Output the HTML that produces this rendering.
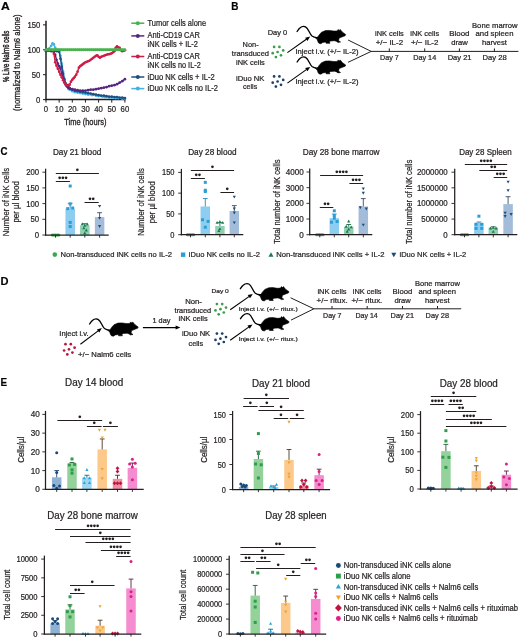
<!DOCTYPE html>
<html><head><meta charset="utf-8"><style>
html,body{margin:0;padding:0;background:#fff;width:520px;height:639px;overflow:hidden}
svg{display:block;will-change:transform}
text{font-family:"Liberation Sans", sans-serif;stroke:#231f20;stroke-width:0.22px}
</style></head><body>
<svg width="520" height="639" viewBox="0 0 520 639" font-family='"Liberation Sans", sans-serif' fill="#231f20">
<rect width="520" height="639" fill="#fff"/>
<text x="0.90" y="9.80" font-size="10" fill="#000" font-weight="bold" textLength="8.80" lengthAdjust="spacingAndGlyphs" >A</text>
<line x1="46.00" y1="20.80" x2="46.00" y2="100.30" stroke="#231f20" stroke-width="1.5" />
<line x1="45.30" y1="99.60" x2="125.70" y2="99.60" stroke="#231f20" stroke-width="1.5" />
<line x1="43.00" y1="99.60" x2="46.00" y2="99.60" stroke="#231f20" stroke-width="1" />
<text x="40.30" y="102.60" font-size="8.6" text-anchor="end" textLength="4.30" lengthAdjust="spacingAndGlyphs" >0</text>
<line x1="43.00" y1="74.68" x2="46.00" y2="74.68" stroke="#231f20" stroke-width="1" />
<text x="40.30" y="77.68" font-size="8.6" text-anchor="end" textLength="8.60" lengthAdjust="spacingAndGlyphs" >50</text>
<line x1="43.00" y1="49.77" x2="46.00" y2="49.77" stroke="#231f20" stroke-width="1" />
<text x="40.30" y="52.77" font-size="8.6" text-anchor="end" textLength="12.90" lengthAdjust="spacingAndGlyphs" >100</text>
<line x1="43.00" y1="24.85" x2="46.00" y2="24.85" stroke="#231f20" stroke-width="1" />
<text x="40.30" y="27.85" font-size="8.6" text-anchor="end" textLength="12.90" lengthAdjust="spacingAndGlyphs" >150</text>
<line x1="46.00" y1="99.60" x2="46.00" y2="102.60" stroke="#231f20" stroke-width="1" />
<text x="46.00" y="112.20" font-size="8.6" text-anchor="middle" textLength="4.30" lengthAdjust="spacingAndGlyphs" >0</text>
<line x1="59.15" y1="99.60" x2="59.15" y2="102.60" stroke="#231f20" stroke-width="1" />
<text x="59.15" y="112.20" font-size="8.6" text-anchor="middle" textLength="8.60" lengthAdjust="spacingAndGlyphs" >10</text>
<line x1="72.30" y1="99.60" x2="72.30" y2="102.60" stroke="#231f20" stroke-width="1" />
<text x="72.30" y="112.20" font-size="8.6" text-anchor="middle" textLength="8.60" lengthAdjust="spacingAndGlyphs" >20</text>
<line x1="85.45" y1="99.60" x2="85.45" y2="102.60" stroke="#231f20" stroke-width="1" />
<text x="85.45" y="112.20" font-size="8.6" text-anchor="middle" textLength="8.60" lengthAdjust="spacingAndGlyphs" >30</text>
<line x1="98.60" y1="99.60" x2="98.60" y2="102.60" stroke="#231f20" stroke-width="1" />
<text x="98.60" y="112.20" font-size="8.6" text-anchor="middle" textLength="8.60" lengthAdjust="spacingAndGlyphs" >40</text>
<line x1="111.75" y1="99.60" x2="111.75" y2="102.60" stroke="#231f20" stroke-width="1" />
<text x="111.75" y="112.20" font-size="8.6" text-anchor="middle" textLength="8.60" lengthAdjust="spacingAndGlyphs" >50</text>
<line x1="124.90" y1="99.60" x2="124.90" y2="102.60" stroke="#231f20" stroke-width="1" />
<text x="124.90" y="112.20" font-size="8.6" text-anchor="middle" textLength="8.60" lengthAdjust="spacingAndGlyphs" >60</text>
<text x="64.20" y="125.20" font-size="9.2" textLength="42.30" lengthAdjust="spacingAndGlyphs" style="stroke-width:0.32px">Time (hours)</text>
<text transform="translate(9.20,56.30) rotate(-90)" font-size="9.6" text-anchor="middle" textLength="51.40" lengthAdjust="spacingAndGlyphs" style="stroke-width:0.45px">% Live Nalm6 cells</text>
<text transform="translate(19.80,62.70) rotate(-90)" font-size="9.2" text-anchor="middle" textLength="96.50" lengthAdjust="spacingAndGlyphs" style="stroke-width:0.32px">(normalized to Nalm6 alone)</text>
<path d="M46.00 49.77 L48.63 48.77 L51.26 45.78 L52.58 43.29 L53.89 44.29 L55.20 47.78 L56.52 49.77 L59.15 49.77 L60.47 55.75 L61.78 63.72 L63.09 71.70 L64.41 78.67 L65.72 83.65 L67.04 86.64 L68.36 88.64 L69.67 89.63 L72.30 91.13 L74.93 92.13 L77.56 92.62 L80.19 93.12 L82.82 93.62 L85.45 94.12 L88.08 94.62 L92.03 95.12 L95.97 95.61 L98.60 96.11 L102.54 96.61 L105.17 97.11 L109.12 97.61 L111.75 97.61 L115.69 98.11 L118.33 98.11 L122.27 98.60 L124.90 98.60" fill="none" stroke="#3fb3e6" stroke-width="1.4" stroke-linejoin="round"/>
<circle cx="46.00" cy="49.77" r="1.35" fill="#3fb3e6"/>
<circle cx="48.63" cy="48.77" r="1.35" fill="#3fb3e6"/>
<circle cx="51.26" cy="45.78" r="1.35" fill="#3fb3e6"/>
<circle cx="52.58" cy="43.29" r="1.35" fill="#3fb3e6"/>
<circle cx="53.89" cy="44.29" r="1.35" fill="#3fb3e6"/>
<circle cx="55.20" cy="47.78" r="1.35" fill="#3fb3e6"/>
<circle cx="56.52" cy="49.77" r="1.35" fill="#3fb3e6"/>
<circle cx="59.15" cy="49.77" r="1.35" fill="#3fb3e6"/>
<circle cx="60.47" cy="55.75" r="1.35" fill="#3fb3e6"/>
<circle cx="61.78" cy="63.72" r="1.35" fill="#3fb3e6"/>
<circle cx="63.09" cy="71.70" r="1.35" fill="#3fb3e6"/>
<circle cx="64.41" cy="78.67" r="1.35" fill="#3fb3e6"/>
<circle cx="65.72" cy="83.65" r="1.35" fill="#3fb3e6"/>
<circle cx="67.04" cy="86.64" r="1.35" fill="#3fb3e6"/>
<circle cx="68.36" cy="88.64" r="1.35" fill="#3fb3e6"/>
<circle cx="69.67" cy="89.63" r="1.35" fill="#3fb3e6"/>
<circle cx="72.30" cy="91.13" r="1.35" fill="#3fb3e6"/>
<circle cx="74.93" cy="92.13" r="1.35" fill="#3fb3e6"/>
<circle cx="77.56" cy="92.62" r="1.35" fill="#3fb3e6"/>
<circle cx="80.19" cy="93.12" r="1.35" fill="#3fb3e6"/>
<circle cx="82.82" cy="93.62" r="1.35" fill="#3fb3e6"/>
<circle cx="85.45" cy="94.12" r="1.35" fill="#3fb3e6"/>
<circle cx="88.08" cy="94.62" r="1.35" fill="#3fb3e6"/>
<circle cx="92.03" cy="95.12" r="1.35" fill="#3fb3e6"/>
<circle cx="95.97" cy="95.61" r="1.35" fill="#3fb3e6"/>
<circle cx="98.60" cy="96.11" r="1.35" fill="#3fb3e6"/>
<circle cx="102.54" cy="96.61" r="1.35" fill="#3fb3e6"/>
<circle cx="105.17" cy="97.11" r="1.35" fill="#3fb3e6"/>
<circle cx="109.12" cy="97.61" r="1.35" fill="#3fb3e6"/>
<circle cx="111.75" cy="97.61" r="1.35" fill="#3fb3e6"/>
<circle cx="115.69" cy="98.11" r="1.35" fill="#3fb3e6"/>
<circle cx="118.33" cy="98.11" r="1.35" fill="#3fb3e6"/>
<circle cx="122.27" cy="98.60" r="1.35" fill="#3fb3e6"/>
<circle cx="124.90" cy="98.60" r="1.35" fill="#3fb3e6"/>
<path d="M46.00 51.26 L48.63 50.77 L51.26 51.26 L53.89 51.26 L56.52 51.26 L59.15 51.76 L60.47 58.74 L61.78 66.71 L63.09 73.69 L64.41 79.67 L65.72 83.65 L67.04 86.15 L68.36 87.64 L69.67 88.64 L72.30 89.63 L74.93 90.63 L77.56 91.13 L80.19 91.63 L82.82 92.13 L85.45 92.62 L88.08 93.12 L90.71 93.62 L93.34 94.12 L95.97 94.62 L98.60 95.12 L101.23 95.61 L103.86 95.61 L106.49 96.11 L109.12 96.61 L111.75 96.61 L114.38 97.11 L117.01 97.11 L119.64 97.61 L122.27 97.61 L124.90 98.11" fill="none" stroke="#1e4f80" stroke-width="1.4" stroke-linejoin="round"/>
<circle cx="46.00" cy="51.26" r="1.35" fill="#1e4f80"/>
<circle cx="48.63" cy="50.77" r="1.35" fill="#1e4f80"/>
<circle cx="51.26" cy="51.26" r="1.35" fill="#1e4f80"/>
<circle cx="53.89" cy="51.26" r="1.35" fill="#1e4f80"/>
<circle cx="56.52" cy="51.26" r="1.35" fill="#1e4f80"/>
<circle cx="59.15" cy="51.76" r="1.35" fill="#1e4f80"/>
<circle cx="60.47" cy="58.74" r="1.35" fill="#1e4f80"/>
<circle cx="61.78" cy="66.71" r="1.35" fill="#1e4f80"/>
<circle cx="63.09" cy="73.69" r="1.35" fill="#1e4f80"/>
<circle cx="64.41" cy="79.67" r="1.35" fill="#1e4f80"/>
<circle cx="65.72" cy="83.65" r="1.35" fill="#1e4f80"/>
<circle cx="67.04" cy="86.15" r="1.35" fill="#1e4f80"/>
<circle cx="68.36" cy="87.64" r="1.35" fill="#1e4f80"/>
<circle cx="69.67" cy="88.64" r="1.35" fill="#1e4f80"/>
<circle cx="72.30" cy="89.63" r="1.35" fill="#1e4f80"/>
<circle cx="74.93" cy="90.63" r="1.35" fill="#1e4f80"/>
<circle cx="77.56" cy="91.13" r="1.35" fill="#1e4f80"/>
<circle cx="80.19" cy="91.63" r="1.35" fill="#1e4f80"/>
<circle cx="82.82" cy="92.13" r="1.35" fill="#1e4f80"/>
<circle cx="85.45" cy="92.62" r="1.35" fill="#1e4f80"/>
<circle cx="88.08" cy="93.12" r="1.35" fill="#1e4f80"/>
<circle cx="90.71" cy="93.62" r="1.35" fill="#1e4f80"/>
<circle cx="93.34" cy="94.12" r="1.35" fill="#1e4f80"/>
<circle cx="95.97" cy="94.62" r="1.35" fill="#1e4f80"/>
<circle cx="98.60" cy="95.12" r="1.35" fill="#1e4f80"/>
<circle cx="101.23" cy="95.61" r="1.35" fill="#1e4f80"/>
<circle cx="103.86" cy="95.61" r="1.35" fill="#1e4f80"/>
<circle cx="106.49" cy="96.11" r="1.35" fill="#1e4f80"/>
<circle cx="109.12" cy="96.61" r="1.35" fill="#1e4f80"/>
<circle cx="111.75" cy="96.61" r="1.35" fill="#1e4f80"/>
<circle cx="114.38" cy="97.11" r="1.35" fill="#1e4f80"/>
<circle cx="117.01" cy="97.11" r="1.35" fill="#1e4f80"/>
<circle cx="119.64" cy="97.61" r="1.35" fill="#1e4f80"/>
<circle cx="122.27" cy="97.61" r="1.35" fill="#1e4f80"/>
<circle cx="124.90" cy="98.11" r="1.35" fill="#1e4f80"/>
<path d="M46.00 49.77 L48.63 49.77 L51.26 50.27 L52.58 50.27 L53.89 51.76 L55.20 54.75 L56.52 59.74 L57.84 63.72 L59.15 66.21 L60.47 68.71 L61.78 73.69 L63.09 78.67 L64.41 82.16 L65.72 84.65 L67.04 86.15 L68.36 87.14 L69.67 88.14 L72.30 89.14 L74.93 89.63 L77.56 90.13 L80.19 90.63 L82.82 90.63 L85.45 90.63 L88.08 90.13 L90.71 89.63 L93.34 89.63 L95.97 89.14 L98.60 88.64 L101.23 88.14 L103.86 87.64 L106.49 87.14 L109.12 86.15 L111.75 85.65 L114.38 85.15 L117.01 84.15 L119.64 82.66 L122.27 81.16 L124.90 79.17" fill="none" stroke="#55267f" stroke-width="1.4" stroke-linejoin="round"/>
<circle cx="46.00" cy="49.77" r="1.35" fill="#55267f"/>
<circle cx="48.63" cy="49.77" r="1.35" fill="#55267f"/>
<circle cx="51.26" cy="50.27" r="1.35" fill="#55267f"/>
<circle cx="52.58" cy="50.27" r="1.35" fill="#55267f"/>
<circle cx="53.89" cy="51.76" r="1.35" fill="#55267f"/>
<circle cx="55.20" cy="54.75" r="1.35" fill="#55267f"/>
<circle cx="56.52" cy="59.74" r="1.35" fill="#55267f"/>
<circle cx="57.84" cy="63.72" r="1.35" fill="#55267f"/>
<circle cx="59.15" cy="66.21" r="1.35" fill="#55267f"/>
<circle cx="60.47" cy="68.71" r="1.35" fill="#55267f"/>
<circle cx="61.78" cy="73.69" r="1.35" fill="#55267f"/>
<circle cx="63.09" cy="78.67" r="1.35" fill="#55267f"/>
<circle cx="64.41" cy="82.16" r="1.35" fill="#55267f"/>
<circle cx="65.72" cy="84.65" r="1.35" fill="#55267f"/>
<circle cx="67.04" cy="86.15" r="1.35" fill="#55267f"/>
<circle cx="68.36" cy="87.14" r="1.35" fill="#55267f"/>
<circle cx="69.67" cy="88.14" r="1.35" fill="#55267f"/>
<circle cx="72.30" cy="89.14" r="1.35" fill="#55267f"/>
<circle cx="74.93" cy="89.63" r="1.35" fill="#55267f"/>
<circle cx="77.56" cy="90.13" r="1.35" fill="#55267f"/>
<circle cx="80.19" cy="90.63" r="1.35" fill="#55267f"/>
<circle cx="82.82" cy="90.63" r="1.35" fill="#55267f"/>
<circle cx="85.45" cy="90.63" r="1.35" fill="#55267f"/>
<circle cx="88.08" cy="90.13" r="1.35" fill="#55267f"/>
<circle cx="90.71" cy="89.63" r="1.35" fill="#55267f"/>
<circle cx="93.34" cy="89.63" r="1.35" fill="#55267f"/>
<circle cx="95.97" cy="89.14" r="1.35" fill="#55267f"/>
<circle cx="98.60" cy="88.64" r="1.35" fill="#55267f"/>
<circle cx="101.23" cy="88.14" r="1.35" fill="#55267f"/>
<circle cx="103.86" cy="87.64" r="1.35" fill="#55267f"/>
<circle cx="106.49" cy="87.14" r="1.35" fill="#55267f"/>
<circle cx="109.12" cy="86.15" r="1.35" fill="#55267f"/>
<circle cx="111.75" cy="85.65" r="1.35" fill="#55267f"/>
<circle cx="114.38" cy="85.15" r="1.35" fill="#55267f"/>
<circle cx="117.01" cy="84.15" r="1.35" fill="#55267f"/>
<circle cx="119.64" cy="82.66" r="1.35" fill="#55267f"/>
<circle cx="122.27" cy="81.16" r="1.35" fill="#55267f"/>
<circle cx="124.90" cy="79.17" r="1.35" fill="#55267f"/>
<path d="M46.00 49.77 L48.63 50.27 L51.26 49.77 L52.58 50.27 L53.89 53.76 L55.20 62.23 L56.52 65.72 L57.84 68.71 L59.15 71.70 L60.47 74.68 L61.78 77.18 L63.09 80.17 L64.41 82.66 L65.72 84.15 L67.04 85.15 L68.36 85.15 L69.67 84.65 L70.98 81.66 L72.30 79.67 L73.61 78.17 L74.93 76.68 L76.25 74.68 L77.56 71.70 L78.88 67.71 L80.19 66.21 L81.50 65.22 L82.82 64.22 L84.13 63.22 L85.45 62.23 L86.77 61.73 L88.08 61.23 L89.39 60.73 L90.71 59.74 L92.03 58.74 L93.34 57.74 L94.66 56.75 L95.97 55.75 L97.28 55.25 L98.60 56.75 L99.91 57.74 L101.23 56.75 L102.54 56.25 L103.86 55.75 L105.17 55.25 L106.49 54.75 L107.81 54.25 L109.12 54.25 L110.44 53.76 L111.75 53.26 L113.06 52.26 L114.38 51.26 L115.69 47.78 L117.01 46.28 L118.33 47.28 L119.64 47.78 L120.95 50.27 L122.27 51.26 L123.58 50.77 L124.90 50.27" fill="none" stroke="#cf1d47" stroke-width="1.4" stroke-linejoin="round"/>
<circle cx="46.00" cy="49.77" r="1.35" fill="#cf1d47"/>
<circle cx="48.63" cy="50.27" r="1.35" fill="#cf1d47"/>
<circle cx="51.26" cy="49.77" r="1.35" fill="#cf1d47"/>
<circle cx="52.58" cy="50.27" r="1.35" fill="#cf1d47"/>
<circle cx="53.89" cy="53.76" r="1.35" fill="#cf1d47"/>
<circle cx="55.20" cy="62.23" r="1.35" fill="#cf1d47"/>
<circle cx="56.52" cy="65.72" r="1.35" fill="#cf1d47"/>
<circle cx="57.84" cy="68.71" r="1.35" fill="#cf1d47"/>
<circle cx="59.15" cy="71.70" r="1.35" fill="#cf1d47"/>
<circle cx="60.47" cy="74.68" r="1.35" fill="#cf1d47"/>
<circle cx="61.78" cy="77.18" r="1.35" fill="#cf1d47"/>
<circle cx="63.09" cy="80.17" r="1.35" fill="#cf1d47"/>
<circle cx="64.41" cy="82.66" r="1.35" fill="#cf1d47"/>
<circle cx="65.72" cy="84.15" r="1.35" fill="#cf1d47"/>
<circle cx="67.04" cy="85.15" r="1.35" fill="#cf1d47"/>
<circle cx="68.36" cy="85.15" r="1.35" fill="#cf1d47"/>
<circle cx="69.67" cy="84.65" r="1.35" fill="#cf1d47"/>
<circle cx="70.98" cy="81.66" r="1.35" fill="#cf1d47"/>
<circle cx="72.30" cy="79.67" r="1.35" fill="#cf1d47"/>
<circle cx="73.61" cy="78.17" r="1.35" fill="#cf1d47"/>
<circle cx="74.93" cy="76.68" r="1.35" fill="#cf1d47"/>
<circle cx="76.25" cy="74.68" r="1.35" fill="#cf1d47"/>
<circle cx="77.56" cy="71.70" r="1.35" fill="#cf1d47"/>
<circle cx="78.88" cy="67.71" r="1.35" fill="#cf1d47"/>
<circle cx="80.19" cy="66.21" r="1.35" fill="#cf1d47"/>
<circle cx="81.50" cy="65.22" r="1.35" fill="#cf1d47"/>
<circle cx="82.82" cy="64.22" r="1.35" fill="#cf1d47"/>
<circle cx="84.13" cy="63.22" r="1.35" fill="#cf1d47"/>
<circle cx="85.45" cy="62.23" r="1.35" fill="#cf1d47"/>
<circle cx="86.77" cy="61.73" r="1.35" fill="#cf1d47"/>
<circle cx="88.08" cy="61.23" r="1.35" fill="#cf1d47"/>
<circle cx="89.39" cy="60.73" r="1.35" fill="#cf1d47"/>
<circle cx="90.71" cy="59.74" r="1.35" fill="#cf1d47"/>
<circle cx="92.03" cy="58.74" r="1.35" fill="#cf1d47"/>
<circle cx="93.34" cy="57.74" r="1.35" fill="#cf1d47"/>
<circle cx="94.66" cy="56.75" r="1.35" fill="#cf1d47"/>
<circle cx="95.97" cy="55.75" r="1.35" fill="#cf1d47"/>
<circle cx="97.28" cy="55.25" r="1.35" fill="#cf1d47"/>
<circle cx="98.60" cy="56.75" r="1.35" fill="#cf1d47"/>
<circle cx="99.91" cy="57.74" r="1.35" fill="#cf1d47"/>
<circle cx="101.23" cy="56.75" r="1.35" fill="#cf1d47"/>
<circle cx="102.54" cy="56.25" r="1.35" fill="#cf1d47"/>
<circle cx="103.86" cy="55.75" r="1.35" fill="#cf1d47"/>
<circle cx="105.17" cy="55.25" r="1.35" fill="#cf1d47"/>
<circle cx="106.49" cy="54.75" r="1.35" fill="#cf1d47"/>
<circle cx="107.81" cy="54.25" r="1.35" fill="#cf1d47"/>
<circle cx="109.12" cy="54.25" r="1.35" fill="#cf1d47"/>
<circle cx="110.44" cy="53.76" r="1.35" fill="#cf1d47"/>
<circle cx="111.75" cy="53.26" r="1.35" fill="#cf1d47"/>
<circle cx="113.06" cy="52.26" r="1.35" fill="#cf1d47"/>
<circle cx="114.38" cy="51.26" r="1.35" fill="#cf1d47"/>
<circle cx="115.69" cy="47.78" r="1.35" fill="#cf1d47"/>
<circle cx="117.01" cy="46.28" r="1.35" fill="#cf1d47"/>
<circle cx="118.33" cy="47.28" r="1.35" fill="#cf1d47"/>
<circle cx="119.64" cy="47.78" r="1.35" fill="#cf1d47"/>
<circle cx="120.95" cy="50.27" r="1.35" fill="#cf1d47"/>
<circle cx="122.27" cy="51.26" r="1.35" fill="#cf1d47"/>
<circle cx="123.58" cy="50.77" r="1.35" fill="#cf1d47"/>
<circle cx="124.90" cy="50.27" r="1.35" fill="#cf1d47"/>
<path d="M46.00 49.77 L47.97 49.77 L49.95 49.77 L51.92 49.77 L53.89 49.77 L55.86 49.77 L57.84 49.77 L59.81 49.77 L61.78 49.77 L63.75 49.77 L65.72 49.77 L67.70 49.77 L69.67 49.77 L71.64 49.77 L73.61 49.77 L75.59 49.77 L77.56 49.77 L79.53 49.77 L81.50 49.77 L83.48 49.77 L85.45 49.77 L87.42 49.77 L89.39 49.77 L91.37 49.77 L93.34 49.77 L95.31 49.77 L97.28 49.77 L99.26 49.77 L101.23 49.77 L103.20 49.77 L105.17 49.77 L107.15 49.77 L109.12 49.77 L111.09 49.77 L113.06 49.77 L115.04 49.77 L117.01 49.77 L118.98 49.77 L120.95 49.77 L122.93 49.77 L124.90 49.77" fill="none" stroke="#46b34d" stroke-width="1.9" stroke-linejoin="round"/>
<circle cx="46.00" cy="49.77" r="1.4" fill="#46b34d"/>
<circle cx="47.97" cy="49.77" r="1.4" fill="#46b34d"/>
<circle cx="49.95" cy="49.77" r="1.4" fill="#46b34d"/>
<circle cx="51.92" cy="49.77" r="1.4" fill="#46b34d"/>
<circle cx="53.89" cy="49.77" r="1.4" fill="#46b34d"/>
<circle cx="55.86" cy="49.77" r="1.4" fill="#46b34d"/>
<circle cx="57.84" cy="49.77" r="1.4" fill="#46b34d"/>
<circle cx="59.81" cy="49.77" r="1.4" fill="#46b34d"/>
<circle cx="61.78" cy="49.77" r="1.4" fill="#46b34d"/>
<circle cx="63.75" cy="49.77" r="1.4" fill="#46b34d"/>
<circle cx="65.72" cy="49.77" r="1.4" fill="#46b34d"/>
<circle cx="67.70" cy="49.77" r="1.4" fill="#46b34d"/>
<circle cx="69.67" cy="49.77" r="1.4" fill="#46b34d"/>
<circle cx="71.64" cy="49.77" r="1.4" fill="#46b34d"/>
<circle cx="73.61" cy="49.77" r="1.4" fill="#46b34d"/>
<circle cx="75.59" cy="49.77" r="1.4" fill="#46b34d"/>
<circle cx="77.56" cy="49.77" r="1.4" fill="#46b34d"/>
<circle cx="79.53" cy="49.77" r="1.4" fill="#46b34d"/>
<circle cx="81.50" cy="49.77" r="1.4" fill="#46b34d"/>
<circle cx="83.48" cy="49.77" r="1.4" fill="#46b34d"/>
<circle cx="85.45" cy="49.77" r="1.4" fill="#46b34d"/>
<circle cx="87.42" cy="49.77" r="1.4" fill="#46b34d"/>
<circle cx="89.39" cy="49.77" r="1.4" fill="#46b34d"/>
<circle cx="91.37" cy="49.77" r="1.4" fill="#46b34d"/>
<circle cx="93.34" cy="49.77" r="1.4" fill="#46b34d"/>
<circle cx="95.31" cy="49.77" r="1.4" fill="#46b34d"/>
<circle cx="97.28" cy="49.77" r="1.4" fill="#46b34d"/>
<circle cx="99.26" cy="49.77" r="1.4" fill="#46b34d"/>
<circle cx="101.23" cy="49.77" r="1.4" fill="#46b34d"/>
<circle cx="103.20" cy="49.77" r="1.4" fill="#46b34d"/>
<circle cx="105.17" cy="49.77" r="1.4" fill="#46b34d"/>
<circle cx="107.15" cy="49.77" r="1.4" fill="#46b34d"/>
<circle cx="109.12" cy="49.77" r="1.4" fill="#46b34d"/>
<circle cx="111.09" cy="49.77" r="1.4" fill="#46b34d"/>
<circle cx="113.06" cy="49.77" r="1.4" fill="#46b34d"/>
<circle cx="115.04" cy="49.77" r="1.4" fill="#46b34d"/>
<circle cx="117.01" cy="49.77" r="1.4" fill="#46b34d"/>
<circle cx="118.98" cy="49.77" r="1.4" fill="#46b34d"/>
<circle cx="120.95" cy="49.77" r="1.4" fill="#46b34d"/>
<circle cx="122.93" cy="49.77" r="1.4" fill="#46b34d"/>
<circle cx="124.90" cy="49.77" r="1.4" fill="#46b34d"/>
<line x1="131.30" y1="23.20" x2="144.30" y2="23.20" stroke="#46b34d" stroke-width="1.5" />
<circle cx="137.8" cy="23.2" r="2.0" fill="#46b34d"/>
<text x="147.60" y="26.40" font-size="8.3" textLength="58.50" lengthAdjust="spacingAndGlyphs" >Tumor cells alone</text>
<line x1="131.30" y1="35.90" x2="144.30" y2="35.90" stroke="#55267f" stroke-width="1.5" />
<circle cx="137.8" cy="35.9" r="2.0" fill="#55267f"/>
<text x="147.60" y="38.20" font-size="8.3" textLength="52.30" lengthAdjust="spacingAndGlyphs" >Anti-CD19 CAR</text>
<text x="147.60" y="46.90" font-size="8.3" textLength="50.40" lengthAdjust="spacingAndGlyphs" >iNK cells + IL-2</text>
<line x1="131.30" y1="56.50" x2="144.30" y2="56.50" stroke="#cf1d47" stroke-width="1.5" />
<circle cx="137.8" cy="56.5" r="2.0" fill="#cf1d47"/>
<text x="147.60" y="59.00" font-size="8.3" textLength="52.30" lengthAdjust="spacingAndGlyphs" >Anti-CD19 CAR</text>
<text x="147.60" y="67.70" font-size="8.3" textLength="53.10" lengthAdjust="spacingAndGlyphs" >iNK cells no IL-2</text>
<line x1="131.30" y1="77.00" x2="144.30" y2="77.00" stroke="#1e4f80" stroke-width="1.5" />
<circle cx="137.8" cy="77.0" r="2.0" fill="#1e4f80"/>
<text x="147.60" y="79.60" font-size="8.3" textLength="67.10" lengthAdjust="spacingAndGlyphs" >iDuo NK cells + IL-2</text>
<line x1="131.30" y1="88.60" x2="144.30" y2="88.60" stroke="#3fb3e6" stroke-width="1.5" />
<circle cx="137.8" cy="88.6" r="2.0" fill="#3fb3e6"/>
<text x="147.60" y="91.00" font-size="8.3" textLength="70.40" lengthAdjust="spacingAndGlyphs" >iDuo NK cells no IL-2</text>
<text x="231.20" y="9.70" font-size="10" fill="#000" font-weight="bold" textLength="7.20" lengthAdjust="spacingAndGlyphs" >B</text>
<text x="267.70" y="35.30" font-size="7.4" textLength="19.50" lengthAdjust="spacingAndGlyphs" >Day 0</text>
<text x="242.60" y="46.90" font-size="7.4" textLength="16.00" lengthAdjust="spacingAndGlyphs" >Non-</text>
<text x="231.80" y="55.80" font-size="7.4" textLength="37.20" lengthAdjust="spacingAndGlyphs" >transduced</text>
<text x="236.00" y="64.60" font-size="7.4" textLength="28.80" lengthAdjust="spacingAndGlyphs" >iNK cells</text>
<text x="236.00" y="80.70" font-size="7.4" textLength="28.40" lengthAdjust="spacingAndGlyphs" >iDuo NK</text>
<text x="243.10" y="89.20" font-size="7.4" textLength="14.10" lengthAdjust="spacingAndGlyphs" >cells</text>
<circle cx="274.10" cy="46.90" r="1.35" fill="#3c9c4c"/>
<circle cx="279.40" cy="46.90" r="1.35" fill="#3c9c4c"/>
<circle cx="283.20" cy="50.40" r="1.35" fill="#3c9c4c"/>
<circle cx="277.60" cy="52.00" r="1.35" fill="#3c9c4c"/>
<circle cx="272.70" cy="53.20" r="1.35" fill="#3c9c4c"/>
<circle cx="281.00" cy="55.30" r="1.35" fill="#3c9c4c"/>
<circle cx="275.90" cy="57.10" r="1.35" fill="#3c9c4c"/>
<circle cx="274.10" cy="76.40" r="1.35" fill="#1c3f66"/>
<circle cx="279.40" cy="76.40" r="1.35" fill="#1c3f66"/>
<circle cx="283.20" cy="79.90" r="1.35" fill="#1c3f66"/>
<circle cx="277.60" cy="81.50" r="1.35" fill="#1c3f66"/>
<circle cx="272.70" cy="82.70" r="1.35" fill="#1c3f66"/>
<circle cx="281.00" cy="84.80" r="1.35" fill="#1c3f66"/>
<circle cx="275.90" cy="86.60" r="1.35" fill="#1c3f66"/>
<line x1="287.40" y1="52.60" x2="306.69" y2="38.98" stroke="#000" stroke-width="1.1" />
<path d="M310.20 36.50L307.43 40.90L305.13 37.64Z" fill="#000"/>
<line x1="287.40" y1="83.10" x2="306.69" y2="69.39" stroke="#000" stroke-width="1.1" />
<path d="M310.20 66.90L307.45 71.31L305.13 68.05Z" fill="#000"/>
<path d="M315.00 37.40 L317.00 38.40 L318.90 35.20 L321.50 32.20 L325.50 30.60 L329.40 30.40 L334.00 31.10 L337.20 30.90 L338.20 29.40 L339.20 30.40 L340.20 29.40 L341.00 30.50 L342.50 32.20 L345.70 34.50 L345.10 35.80 L343.10 36.50 L339.20 38.10 L338.50 40.50 L340.50 42.00 L338.00 42.40 L336.60 41.40 L334.60 40.70 L330.70 41.00 L329.40 41.70 L329.90 43.30 L326.10 43.30 L325.80 42.00 L322.80 42.40 L320.90 43.70 L318.90 43.30 L317.90 41.70 L317.30 39.70Z" fill="#000" stroke="#000" stroke-width="0.6" stroke-linejoin="round"/>
<path d="M297.10 31.50 C299.50 27.50,303.00 25.50,305.50 26.80 C308.50 28.30,309.50 34.00,312.00 36.00 C314.00 37.50,316.00 37.80,318.00 37.50" fill="none" stroke="#000" stroke-width="1.35" stroke-linecap="round"/>
<path d="M315.00 67.90 L317.00 68.90 L318.90 65.70 L321.50 62.70 L325.50 61.10 L329.40 60.90 L334.00 61.60 L337.20 61.40 L338.20 59.90 L339.20 60.90 L340.20 59.90 L341.00 61.00 L342.50 62.70 L345.70 65.00 L345.10 66.30 L343.10 67.00 L339.20 68.60 L338.50 71.00 L340.50 72.50 L338.00 72.90 L336.60 71.90 L334.60 71.20 L330.70 71.50 L329.40 72.20 L329.90 73.80 L326.10 73.80 L325.80 72.50 L322.80 72.90 L320.90 74.20 L318.90 73.80 L317.90 72.20 L317.30 70.20Z" fill="#000" stroke="#000" stroke-width="0.6" stroke-linejoin="round"/>
<path d="M297.10 62.00 C299.50 58.00,303.00 56.00,305.50 57.30 C308.50 58.80,309.50 64.50,312.00 66.50 C314.00 68.00,316.00 68.30,318.00 68.00" fill="none" stroke="#000" stroke-width="1.35" stroke-linecap="round"/>
<text x="295.50" y="53.80" font-size="7.2" textLength="63.10" lengthAdjust="spacingAndGlyphs" >Inject i.v. (+/− IL-2)</text>
<text x="295.50" y="84.20" font-size="7.2" textLength="63.10" lengthAdjust="spacingAndGlyphs" >Inject i.v. (+/− IL-2)</text>
<line x1="348.10" y1="40.00" x2="371.20" y2="51.40" stroke="#231f20" stroke-width="1.0" />
<line x1="348.10" y1="62.30" x2="371.20" y2="51.40" stroke="#231f20" stroke-width="1.0" />
<line x1="371.00" y1="51.40" x2="518.40" y2="51.40" stroke="#231f20" stroke-width="1.0" />
<line x1="389.30" y1="51.40" x2="389.30" y2="48.40" stroke="#231f20" stroke-width="1.0" />
<line x1="424.70" y1="51.40" x2="424.70" y2="48.40" stroke="#231f20" stroke-width="1.0" />
<line x1="459.40" y1="51.40" x2="459.40" y2="48.40" stroke="#231f20" stroke-width="1.0" />
<line x1="494.40" y1="51.40" x2="494.40" y2="48.40" stroke="#231f20" stroke-width="1.0" />
<text x="375.00" y="35.80" font-size="7.4" textLength="28.80" lengthAdjust="spacingAndGlyphs" >iNK cells</text>
<text x="375.70" y="44.60" font-size="7.4" textLength="27.40" lengthAdjust="spacingAndGlyphs" >+/− IL-2</text>
<text x="410.30" y="35.80" font-size="7.4" textLength="28.80" lengthAdjust="spacingAndGlyphs" >iNK cells</text>
<text x="411.00" y="44.60" font-size="7.4" textLength="27.40" lengthAdjust="spacingAndGlyphs" >+/− IL-2</text>
<text x="449.30" y="36.20" font-size="7.4" textLength="20.20" lengthAdjust="spacingAndGlyphs" >Blood</text>
<text x="451.30" y="44.90" font-size="7.4" textLength="16.60" lengthAdjust="spacingAndGlyphs" >draw</text>
<text x="472.00" y="27.50" font-size="7.4" textLength="45.60" lengthAdjust="spacingAndGlyphs" >Bone marrow</text>
<text x="475.55" y="36.20" font-size="7.4" textLength="37.90" lengthAdjust="spacingAndGlyphs" >and spleen</text>
<text x="481.95" y="44.90" font-size="7.4" textLength="24.90" lengthAdjust="spacingAndGlyphs" >harvest</text>
<text x="380.10" y="60.30" font-size="7.4" textLength="18.70" lengthAdjust="spacingAndGlyphs" >Day 7</text>
<text x="413.20" y="60.30" font-size="7.4" textLength="23.00" lengthAdjust="spacingAndGlyphs" >Day 14</text>
<text x="447.70" y="60.30" font-size="7.4" textLength="23.80" lengthAdjust="spacingAndGlyphs" >Day 21</text>
<text x="482.55" y="60.30" font-size="7.4" textLength="24.30" lengthAdjust="spacingAndGlyphs" >Day 28</text>
<text x="0.60" y="154.70" font-size="10" fill="#000" font-weight="bold" textLength="7.00" lengthAdjust="spacingAndGlyphs" >C</text>
<text x="52.90" y="154.80" font-size="8.2" textLength="48.40" lengthAdjust="spacingAndGlyphs" >Day 21 blood</text>
<text transform="translate(8.60,202.00) rotate(-90)" font-size="9.2" text-anchor="middle" textLength="68.50" lengthAdjust="spacingAndGlyphs" >Number of iNK cells</text>
<text transform="translate(19.40,201.90) rotate(-90)" font-size="9.0" text-anchor="middle" textLength="41.30" lengthAdjust="spacingAndGlyphs" >per µl blood</text>
<circle cx="52.30" cy="235.00" r="1.50" fill="#3aa84a"/>
<circle cx="53.90" cy="235.00" r="1.50" fill="#3aa84a"/>
<circle cx="55.50" cy="235.00" r="1.50" fill="#3aa84a"/>
<circle cx="57.10" cy="235.00" r="1.50" fill="#3aa84a"/>
<circle cx="58.70" cy="235.00" r="1.50" fill="#3aa84a"/>
<rect x="65.45" y="208.81" width="9.50" height="26.19" fill="#8ccdf0"/>
<line x1="70.20" y1="208.81" x2="70.20" y2="203.29" stroke="#2a86bd" stroke-width="0.9" />
<line x1="67.80" y1="203.29" x2="72.60" y2="203.29" stroke="#2a86bd" stroke-width="0.9" />
<rect x="68.70" y="184.52" width="3.00" height="3.00" fill="#2a9fd6"/>
<rect x="66.20" y="207.12" width="3.00" height="3.00" fill="#2a9fd6"/>
<rect x="71.20" y="206.50" width="3.00" height="3.00" fill="#2a9fd6"/>
<rect x="68.70" y="202.41" width="3.00" height="3.00" fill="#2a9fd6"/>
<rect x="68.70" y="220.94" width="3.00" height="3.00" fill="#2a9fd6"/>
<rect x="68.70" y="225.02" width="3.00" height="3.00" fill="#2a9fd6"/>
<rect x="80.05" y="225.42" width="9.50" height="9.58" fill="#8fcfb2"/>
<line x1="84.80" y1="225.42" x2="84.80" y2="223.70" stroke="#1e6a48" stroke-width="0.9" />
<line x1="82.40" y1="223.70" x2="87.20" y2="223.70" stroke="#1e6a48" stroke-width="0.9" />
<path d="M82.30 222.30L83.88 225.15L80.72 225.15Z" fill="#1e7a50"/>
<path d="M87.30 222.61L88.88 225.46L85.72 225.46Z" fill="#1e7a50"/>
<path d="M84.80 223.87L86.38 226.72L83.22 226.72Z" fill="#1e7a50"/>
<path d="M83.80 226.38L85.38 229.23L82.22 229.23Z" fill="#1e7a50"/>
<path d="M86.30 228.58L87.88 231.43L84.72 231.43Z" fill="#1e7a50"/>
<path d="M84.80 231.41L86.38 234.26L83.22 234.26Z" fill="#1e7a50"/>
<rect x="94.85" y="217.10" width="9.50" height="17.90" fill="#a3bcd9"/>
<line x1="99.60" y1="217.10" x2="99.60" y2="212.71" stroke="#3d4b5c" stroke-width="0.9" />
<line x1="97.20" y1="212.71" x2="102.00" y2="212.71" stroke="#3d4b5c" stroke-width="0.9" />
<path d="M99.60 207.82L101.17 204.97L98.02 204.97Z" fill="#1f4d7a"/>
<path d="M99.60 219.75L101.17 216.90L98.02 216.90Z" fill="#1f4d7a"/>
<path d="M99.60 227.92L101.17 225.07L98.02 225.07Z" fill="#1f4d7a"/>
<line x1="45.60" y1="168.70" x2="45.60" y2="235.62" stroke="#231f20" stroke-width="1.25" />
<line x1="44.98" y1="235.00" x2="108.70" y2="235.00" stroke="#231f20" stroke-width="1.25" />
<line x1="42.40" y1="235.00" x2="45.60" y2="235.00" stroke="#231f20" stroke-width="0.9" />
<text x="39.20" y="238.00" font-size="8.6" text-anchor="end" textLength="4.33" lengthAdjust="spacingAndGlyphs" >0</text>
<line x1="42.40" y1="219.30" x2="45.60" y2="219.30" stroke="#231f20" stroke-width="0.9" />
<text x="39.20" y="222.30" font-size="8.6" text-anchor="end" textLength="8.66" lengthAdjust="spacingAndGlyphs" >50</text>
<line x1="42.40" y1="203.60" x2="45.60" y2="203.60" stroke="#231f20" stroke-width="0.9" />
<text x="39.20" y="206.60" font-size="8.6" text-anchor="end" textLength="12.99" lengthAdjust="spacingAndGlyphs" >100</text>
<line x1="42.40" y1="187.90" x2="45.60" y2="187.90" stroke="#231f20" stroke-width="0.9" />
<text x="39.20" y="190.90" font-size="8.6" text-anchor="end" textLength="12.99" lengthAdjust="spacingAndGlyphs" >150</text>
<line x1="42.40" y1="172.20" x2="45.60" y2="172.20" stroke="#231f20" stroke-width="0.9" />
<text x="39.20" y="175.20" font-size="8.6" text-anchor="end" textLength="12.99" lengthAdjust="spacingAndGlyphs" >200</text>
<line x1="55.50" y1="235.00" x2="55.50" y2="237.60" stroke="#231f20" stroke-width="0.9" />
<line x1="70.20" y1="235.00" x2="70.20" y2="237.60" stroke="#231f20" stroke-width="0.9" />
<line x1="84.80" y1="235.00" x2="84.80" y2="237.60" stroke="#231f20" stroke-width="0.9" />
<line x1="99.60" y1="235.00" x2="99.60" y2="237.60" stroke="#231f20" stroke-width="0.9" />
<line x1="55.80" y1="173.50" x2="98.90" y2="173.50" stroke="#231f20" stroke-width="1.0" />
<circle cx="77.35" cy="169.80" r="1.35" fill="#231f20"/>
<line x1="55.80" y1="181.50" x2="69.90" y2="181.50" stroke="#231f20" stroke-width="1.0" />
<circle cx="59.65" cy="177.80" r="1.35" fill="#231f20"/>
<circle cx="62.85" cy="177.80" r="1.35" fill="#231f20"/>
<circle cx="66.05" cy="177.80" r="1.35" fill="#231f20"/>
<line x1="84.50" y1="202.50" x2="98.70" y2="202.50" stroke="#231f20" stroke-width="1.0" />
<circle cx="90.00" cy="198.80" r="1.35" fill="#231f20"/>
<circle cx="93.20" cy="198.80" r="1.35" fill="#231f20"/>
<text x="188.20" y="154.80" font-size="8.2" textLength="48.40" lengthAdjust="spacingAndGlyphs" >Day 28 blood</text>
<text transform="translate(143.80,202.00) rotate(-90)" font-size="9.2" text-anchor="middle" textLength="67.70" lengthAdjust="spacingAndGlyphs" >Number of iNK cells</text>
<text transform="translate(155.30,202.30) rotate(-90)" font-size="9.0" text-anchor="middle" textLength="42.00" lengthAdjust="spacingAndGlyphs" >per µl blood</text>
<circle cx="187.30" cy="234.70" r="1.50" fill="#3aa84a"/>
<circle cx="188.90" cy="234.70" r="1.50" fill="#3aa84a"/>
<circle cx="190.50" cy="234.70" r="1.50" fill="#3aa84a"/>
<circle cx="192.10" cy="234.70" r="1.50" fill="#3aa84a"/>
<circle cx="193.70" cy="234.70" r="1.50" fill="#3aa84a"/>
<rect x="200.55" y="206.45" width="9.50" height="28.25" fill="#8ccdf0"/>
<line x1="205.30" y1="206.45" x2="205.30" y2="198.55" stroke="#2a86bd" stroke-width="0.9" />
<line x1="202.90" y1="198.55" x2="207.70" y2="198.55" stroke="#2a86bd" stroke-width="0.9" />
<rect x="203.80" y="180.85" width="3.00" height="3.00" fill="#2a9fd6"/>
<rect x="203.80" y="188.74" width="3.00" height="3.00" fill="#2a9fd6"/>
<rect x="203.80" y="189.99" width="3.00" height="3.00" fill="#2a9fd6"/>
<rect x="201.00" y="218.24" width="3.00" height="3.00" fill="#2a9fd6"/>
<rect x="206.60" y="219.90" width="3.00" height="3.00" fill="#2a9fd6"/>
<rect x="203.80" y="225.72" width="3.00" height="3.00" fill="#2a9fd6"/>
<rect x="215.15" y="225.97" width="9.50" height="8.73" fill="#8fcfb2"/>
<line x1="219.90" y1="225.97" x2="219.90" y2="222.65" stroke="#1e6a48" stroke-width="0.9" />
<line x1="217.50" y1="222.65" x2="222.30" y2="222.65" stroke="#1e6a48" stroke-width="0.9" />
<path d="M217.10 220.94L218.67 223.79L215.53 223.79Z" fill="#1e7a50"/>
<path d="M219.90 220.11L221.47 222.96L218.33 222.96Z" fill="#1e7a50"/>
<path d="M222.70 220.94L224.28 223.79L221.13 223.79Z" fill="#1e7a50"/>
<path d="M219.90 227.17L221.47 230.02L218.33 230.02Z" fill="#1e7a50"/>
<path d="M218.90 229.25L220.47 232.10L217.33 232.10Z" fill="#1e7a50"/>
<rect x="229.55" y="211.02" width="9.50" height="23.68" fill="#a3bcd9"/>
<line x1="234.30" y1="211.02" x2="234.30" y2="205.61" stroke="#3d4b5c" stroke-width="0.9" />
<line x1="231.90" y1="205.61" x2="236.70" y2="205.61" stroke="#3d4b5c" stroke-width="0.9" />
<path d="M234.30 198.60L235.88 195.75L232.73 195.75Z" fill="#1f4d7a"/>
<path d="M234.30 210.23L235.88 207.38L232.73 207.38Z" fill="#1f4d7a"/>
<path d="M234.30 214.39L235.88 211.54L232.73 211.54Z" fill="#1f4d7a"/>
<path d="M234.30 224.36L235.88 221.51L232.73 221.51Z" fill="#1f4d7a"/>
<line x1="181.40" y1="168.88" x2="181.40" y2="235.32" stroke="#231f20" stroke-width="1.25" />
<line x1="180.78" y1="234.70" x2="243.30" y2="234.70" stroke="#231f20" stroke-width="1.25" />
<line x1="178.20" y1="234.70" x2="181.40" y2="234.70" stroke="#231f20" stroke-width="0.9" />
<text x="174.50" y="237.70" font-size="8.6" text-anchor="end" textLength="4.17" lengthAdjust="spacingAndGlyphs" >0</text>
<line x1="178.20" y1="213.92" x2="181.40" y2="213.92" stroke="#231f20" stroke-width="0.9" />
<text x="174.50" y="216.92" font-size="8.6" text-anchor="end" textLength="8.34" lengthAdjust="spacingAndGlyphs" >50</text>
<line x1="178.20" y1="193.15" x2="181.40" y2="193.15" stroke="#231f20" stroke-width="0.9" />
<text x="174.50" y="196.15" font-size="8.6" text-anchor="end" textLength="12.51" lengthAdjust="spacingAndGlyphs" >100</text>
<line x1="178.20" y1="172.38" x2="181.40" y2="172.38" stroke="#231f20" stroke-width="0.9" />
<text x="174.50" y="175.38" font-size="8.6" text-anchor="end" textLength="12.51" lengthAdjust="spacingAndGlyphs" >150</text>
<line x1="190.50" y1="234.70" x2="190.50" y2="237.30" stroke="#231f20" stroke-width="0.9" />
<line x1="205.30" y1="234.70" x2="205.30" y2="237.30" stroke="#231f20" stroke-width="0.9" />
<line x1="219.90" y1="234.70" x2="219.90" y2="237.30" stroke="#231f20" stroke-width="0.9" />
<line x1="234.30" y1="234.70" x2="234.30" y2="237.30" stroke="#231f20" stroke-width="0.9" />
<line x1="190.80" y1="170.50" x2="234.10" y2="170.50" stroke="#231f20" stroke-width="1.0" />
<circle cx="212.45" cy="166.80" r="1.35" fill="#231f20"/>
<line x1="190.80" y1="178.50" x2="204.90" y2="178.50" stroke="#231f20" stroke-width="1.0" />
<circle cx="196.25" cy="174.80" r="1.35" fill="#231f20"/>
<circle cx="199.45" cy="174.80" r="1.35" fill="#231f20"/>
<line x1="220.40" y1="192.50" x2="234.10" y2="192.50" stroke="#231f20" stroke-width="1.0" />
<circle cx="227.25" cy="188.80" r="1.35" fill="#231f20"/>
<text x="302.70" y="154.90" font-size="8.2" textLength="76.80" lengthAdjust="spacingAndGlyphs" >Day 28 bone marrow</text>
<text transform="translate(280.00,201.60) rotate(-90)" font-size="8.6" text-anchor="middle" textLength="84.30" lengthAdjust="spacingAndGlyphs" >Total number of iNK cells</text>
<circle cx="316.60" cy="234.70" r="1.50" fill="#3aa84a"/>
<circle cx="318.20" cy="234.70" r="1.50" fill="#3aa84a"/>
<circle cx="319.80" cy="234.70" r="1.50" fill="#3aa84a"/>
<circle cx="321.40" cy="234.70" r="1.50" fill="#3aa84a"/>
<circle cx="323.00" cy="234.70" r="1.50" fill="#3aa84a"/>
<rect x="329.55" y="218.19" width="9.50" height="16.51" fill="#8ccdf0"/>
<line x1="334.30" y1="218.19" x2="334.30" y2="214.10" stroke="#2a86bd" stroke-width="0.9" />
<line x1="331.90" y1="214.10" x2="336.70" y2="214.10" stroke="#2a86bd" stroke-width="0.9" />
<rect x="332.80" y="209.30" width="3.00" height="3.00" fill="#2a9fd6"/>
<rect x="332.80" y="214.00" width="3.00" height="3.00" fill="#2a9fd6"/>
<rect x="330.00" y="220.71" width="3.00" height="3.00" fill="#2a9fd6"/>
<rect x="335.60" y="220.00" width="3.00" height="3.00" fill="#2a9fd6"/>
<rect x="332.80" y="216.69" width="3.00" height="3.00" fill="#2a9fd6"/>
<rect x="343.95" y="226.60" width="9.50" height="8.10" fill="#8fcfb2"/>
<line x1="348.70" y1="226.60" x2="348.70" y2="224.51" stroke="#1e6a48" stroke-width="0.9" />
<line x1="346.30" y1="224.51" x2="351.10" y2="224.51" stroke="#1e6a48" stroke-width="0.9" />
<path d="M348.70 219.59L350.27 222.44L347.12 222.44Z" fill="#1e7a50"/>
<path d="M346.20 224.84L347.77 227.69L344.62 227.69Z" fill="#1e7a50"/>
<path d="M351.20 225.50L352.77 228.35L349.62 228.35Z" fill="#1e7a50"/>
<path d="M348.70 227.58L350.27 230.43L347.12 230.43Z" fill="#1e7a50"/>
<path d="M347.20 229.85L348.77 232.70L345.62 232.70Z" fill="#1e7a50"/>
<rect x="358.55" y="206.48" width="9.50" height="28.22" fill="#a3bcd9"/>
<line x1="363.30" y1="206.48" x2="363.30" y2="198.60" stroke="#3d4b5c" stroke-width="0.9" />
<line x1="360.90" y1="198.60" x2="365.70" y2="198.60" stroke="#3d4b5c" stroke-width="0.9" />
<path d="M363.30 190.33L364.88 187.48L361.73 187.48Z" fill="#1f4d7a"/>
<path d="M363.30 194.71L364.88 191.86L361.73 191.86Z" fill="#1f4d7a"/>
<path d="M360.30 209.14L361.88 206.29L358.73 206.29Z" fill="#1f4d7a"/>
<path d="M366.30 210.39L367.88 207.54L364.73 207.54Z" fill="#1f4d7a"/>
<path d="M363.30 226.61L364.88 223.76L361.73 223.76Z" fill="#1f4d7a"/>
<line x1="309.70" y1="168.50" x2="309.70" y2="235.32" stroke="#231f20" stroke-width="1.25" />
<line x1="309.07" y1="234.70" x2="372.30" y2="234.70" stroke="#231f20" stroke-width="1.25" />
<line x1="306.50" y1="234.70" x2="309.70" y2="234.70" stroke="#231f20" stroke-width="0.9" />
<text x="303.80" y="237.70" font-size="8.6" text-anchor="end" textLength="4.50" lengthAdjust="spacingAndGlyphs" >0</text>
<line x1="306.50" y1="219.02" x2="309.70" y2="219.02" stroke="#231f20" stroke-width="0.9" />
<text x="303.80" y="222.02" font-size="8.6" text-anchor="end" textLength="18.00" lengthAdjust="spacingAndGlyphs" >1000</text>
<line x1="306.50" y1="203.35" x2="309.70" y2="203.35" stroke="#231f20" stroke-width="0.9" />
<text x="303.80" y="206.35" font-size="8.6" text-anchor="end" textLength="18.00" lengthAdjust="spacingAndGlyphs" >2000</text>
<line x1="306.50" y1="187.67" x2="309.70" y2="187.67" stroke="#231f20" stroke-width="0.9" />
<text x="303.80" y="190.67" font-size="8.6" text-anchor="end" textLength="18.00" lengthAdjust="spacingAndGlyphs" >3000</text>
<line x1="306.50" y1="172.00" x2="309.70" y2="172.00" stroke="#231f20" stroke-width="0.9" />
<text x="303.80" y="175.00" font-size="8.6" text-anchor="end" textLength="18.00" lengthAdjust="spacingAndGlyphs" >4000</text>
<line x1="319.80" y1="234.70" x2="319.80" y2="237.30" stroke="#231f20" stroke-width="0.9" />
<line x1="334.30" y1="234.70" x2="334.30" y2="237.30" stroke="#231f20" stroke-width="0.9" />
<line x1="348.70" y1="234.70" x2="348.70" y2="237.30" stroke="#231f20" stroke-width="0.9" />
<line x1="363.30" y1="234.70" x2="363.30" y2="237.30" stroke="#231f20" stroke-width="0.9" />
<line x1="320.10" y1="175.50" x2="363.10" y2="175.50" stroke="#231f20" stroke-width="1.0" />
<circle cx="336.80" cy="171.80" r="1.35" fill="#231f20"/>
<circle cx="340.00" cy="171.80" r="1.35" fill="#231f20"/>
<circle cx="343.20" cy="171.80" r="1.35" fill="#231f20"/>
<circle cx="346.40" cy="171.80" r="1.35" fill="#231f20"/>
<line x1="349.40" y1="183.50" x2="363.10" y2="183.50" stroke="#231f20" stroke-width="1.0" />
<circle cx="353.05" cy="179.80" r="1.35" fill="#231f20"/>
<circle cx="356.25" cy="179.80" r="1.35" fill="#231f20"/>
<circle cx="359.45" cy="179.80" r="1.35" fill="#231f20"/>
<line x1="319.80" y1="207.50" x2="333.30" y2="207.50" stroke="#231f20" stroke-width="1.0" />
<circle cx="324.95" cy="203.80" r="1.35" fill="#231f20"/>
<circle cx="328.15" cy="203.80" r="1.35" fill="#231f20"/>
<text x="459.15" y="154.80" font-size="8.2" textLength="52.50" lengthAdjust="spacingAndGlyphs" >Day 28 Spleen</text>
<text transform="translate(412.00,201.80) rotate(-90)" font-size="8.6" text-anchor="middle" textLength="84.20" lengthAdjust="spacingAndGlyphs" >Total number of iNK cells</text>
<circle cx="461.30" cy="234.70" r="1.50" fill="#3aa84a"/>
<circle cx="462.90" cy="234.70" r="1.50" fill="#3aa84a"/>
<circle cx="464.50" cy="234.70" r="1.50" fill="#3aa84a"/>
<circle cx="466.10" cy="234.70" r="1.50" fill="#3aa84a"/>
<circle cx="467.70" cy="234.70" r="1.50" fill="#3aa84a"/>
<rect x="474.15" y="223.01" width="9.50" height="11.69" fill="#8ccdf0"/>
<line x1="478.90" y1="223.01" x2="478.90" y2="222.01" stroke="#2a86bd" stroke-width="0.9" />
<line x1="476.50" y1="222.01" x2="481.30" y2="222.01" stroke="#2a86bd" stroke-width="0.9" />
<rect x="477.40" y="214.70" width="3.00" height="3.00" fill="#2a9fd6"/>
<rect x="474.60" y="222.79" width="3.00" height="3.00" fill="#2a9fd6"/>
<rect x="480.20" y="222.79" width="3.00" height="3.00" fill="#2a9fd6"/>
<rect x="474.60" y="226.89" width="3.00" height="3.00" fill="#2a9fd6"/>
<rect x="480.20" y="226.89" width="3.00" height="3.00" fill="#2a9fd6"/>
<rect x="488.55" y="227.70" width="9.50" height="7.00" fill="#8fcfb2"/>
<line x1="493.30" y1="227.70" x2="493.30" y2="226.79" stroke="#1e6a48" stroke-width="0.9" />
<line x1="490.90" y1="226.79" x2="495.70" y2="226.79" stroke="#1e6a48" stroke-width="0.9" />
<path d="M490.50 226.58L492.07 229.43L488.93 229.43Z" fill="#1e7a50"/>
<path d="M493.30 225.99L494.88 228.84L491.73 228.84Z" fill="#1e7a50"/>
<path d="M496.10 226.58L497.68 229.43L494.53 229.43Z" fill="#1e7a50"/>
<path d="M493.30 229.99L494.88 232.84L491.73 232.84Z" fill="#1e7a50"/>
<rect x="503.35" y="204.11" width="9.50" height="30.59" fill="#a3bcd9"/>
<line x1="508.10" y1="204.11" x2="508.10" y2="196.70" stroke="#3d4b5c" stroke-width="0.9" />
<line x1="505.70" y1="196.70" x2="510.50" y2="196.70" stroke="#3d4b5c" stroke-width="0.9" />
<path d="M508.10 183.60L509.68 180.75L506.53 180.75Z" fill="#1f4d7a"/>
<path d="M508.10 192.03L509.68 189.19L506.53 189.19Z" fill="#1f4d7a"/>
<path d="M505.10 214.53L506.68 211.69L503.53 211.69Z" fill="#1f4d7a"/>
<path d="M511.10 215.91L512.68 213.06L509.53 213.06Z" fill="#1f4d7a"/>
<path d="M505.10 217.91L506.68 215.06L503.53 215.06Z" fill="#1f4d7a"/>
<line x1="454.70" y1="168.70" x2="454.70" y2="235.32" stroke="#231f20" stroke-width="1.25" />
<line x1="454.07" y1="234.70" x2="517.30" y2="234.70" stroke="#231f20" stroke-width="1.25" />
<line x1="451.50" y1="234.70" x2="454.70" y2="234.70" stroke="#231f20" stroke-width="0.9" />
<text x="447.70" y="237.70" font-size="8.6" text-anchor="end" textLength="4.40" lengthAdjust="spacingAndGlyphs" >0</text>
<line x1="451.50" y1="219.07" x2="454.70" y2="219.07" stroke="#231f20" stroke-width="0.9" />
<text x="447.70" y="222.07" font-size="8.6" text-anchor="end" textLength="26.40" lengthAdjust="spacingAndGlyphs" >500000</text>
<line x1="451.50" y1="203.45" x2="454.70" y2="203.45" stroke="#231f20" stroke-width="0.9" />
<text x="447.70" y="206.45" font-size="8.6" text-anchor="end" textLength="30.80" lengthAdjust="spacingAndGlyphs" >1000000</text>
<line x1="451.50" y1="187.82" x2="454.70" y2="187.82" stroke="#231f20" stroke-width="0.9" />
<text x="447.70" y="190.82" font-size="8.6" text-anchor="end" textLength="30.80" lengthAdjust="spacingAndGlyphs" >1500000</text>
<line x1="451.50" y1="172.20" x2="454.70" y2="172.20" stroke="#231f20" stroke-width="0.9" />
<text x="447.70" y="175.20" font-size="8.6" text-anchor="end" textLength="30.80" lengthAdjust="spacingAndGlyphs" >2000000</text>
<line x1="464.50" y1="234.70" x2="464.50" y2="237.30" stroke="#231f20" stroke-width="0.9" />
<line x1="478.90" y1="234.70" x2="478.90" y2="237.30" stroke="#231f20" stroke-width="0.9" />
<line x1="493.30" y1="234.70" x2="493.30" y2="237.30" stroke="#231f20" stroke-width="0.9" />
<line x1="508.10" y1="234.70" x2="508.10" y2="237.30" stroke="#231f20" stroke-width="0.9" />
<line x1="464.80" y1="164.50" x2="507.20" y2="164.50" stroke="#231f20" stroke-width="1.0" />
<circle cx="481.20" cy="160.80" r="1.35" fill="#231f20"/>
<circle cx="484.40" cy="160.80" r="1.35" fill="#231f20"/>
<circle cx="487.60" cy="160.80" r="1.35" fill="#231f20"/>
<circle cx="490.80" cy="160.80" r="1.35" fill="#231f20"/>
<line x1="479.30" y1="170.50" x2="507.20" y2="170.50" stroke="#231f20" stroke-width="1.0" />
<circle cx="491.65" cy="166.80" r="1.35" fill="#231f20"/>
<circle cx="494.85" cy="166.80" r="1.35" fill="#231f20"/>
<line x1="493.70" y1="177.50" x2="507.20" y2="177.50" stroke="#231f20" stroke-width="1.0" />
<circle cx="497.25" cy="173.80" r="1.35" fill="#231f20"/>
<circle cx="500.45" cy="173.80" r="1.35" fill="#231f20"/>
<circle cx="503.65" cy="173.80" r="1.35" fill="#231f20"/>
<circle cx="54.8" cy="254.6" r="2.3" fill="#3aa84a"/>
<text x="60.50" y="257.40" font-size="8.0" textLength="111.50" lengthAdjust="spacingAndGlyphs" >Non-transduced iNK cells no IL-2</text>
<rect x="180.9" y="252.5" width="4.4" height="4.4" fill="#2a9fd6"/>
<text x="188.80" y="257.40" font-size="8.0" textLength="71.20" lengthAdjust="spacingAndGlyphs" >iDuo NK cells no IL-2</text>
<path d="M271.00 252.26L273.52 256.82L268.48 256.82Z" fill="#1e7a50"/>
<text x="276.30" y="257.40" font-size="8.0" textLength="108.20" lengthAdjust="spacingAndGlyphs" >Non-transduced iNK cells + IL-2</text>
<path d="M393.80 257.34L396.32 252.78L391.28 252.78Z" fill="#1f4d7a"/>
<text x="399.50" y="257.40" font-size="8.0" textLength="66.80" lengthAdjust="spacingAndGlyphs" >iDuo NK cells + IL-2</text>
<text x="0.60" y="284.80" font-size="10" fill="#000" font-weight="bold" textLength="8.00" lengthAdjust="spacingAndGlyphs" >D</text>
<text x="59.30" y="335.80" font-size="7.4" textLength="29.20" lengthAdjust="spacingAndGlyphs" >Inject i.v.</text>
<circle cx="65.50" cy="344.20" r="1.35" fill="#b5173a"/>
<circle cx="70.80" cy="344.20" r="1.35" fill="#b5173a"/>
<circle cx="74.60" cy="347.70" r="1.35" fill="#b5173a"/>
<circle cx="69.00" cy="349.30" r="1.35" fill="#b5173a"/>
<circle cx="64.10" cy="350.50" r="1.35" fill="#b5173a"/>
<circle cx="72.40" cy="352.60" r="1.35" fill="#b5173a"/>
<circle cx="67.30" cy="354.40" r="1.35" fill="#b5173a"/>
<text x="78.10" y="357.30" font-size="7.4" textLength="53.10" lengthAdjust="spacingAndGlyphs" >+/− Nalm6 cells</text>
<line x1="80.40" y1="344.20" x2="98.46" y2="330.68" stroke="#000" stroke-width="1.1" />
<path d="M101.90 328.10L99.26 332.58L96.86 329.38Z" fill="#000"/>
<path d="M107.50 329.90 L109.50 330.90 L111.40 327.70 L114.00 324.70 L118.00 323.10 L121.90 322.90 L126.50 323.60 L129.70 323.40 L130.70 321.90 L131.70 322.90 L132.70 321.90 L133.50 323.00 L135.00 324.70 L138.20 327.00 L137.60 328.30 L135.60 329.00 L131.70 330.60 L131.00 333.00 L133.00 334.50 L130.50 334.90 L129.10 333.90 L127.10 333.20 L123.20 333.50 L121.90 334.20 L122.40 335.80 L118.60 335.80 L118.30 334.50 L115.30 334.90 L113.40 336.20 L111.40 335.80 L110.40 334.20 L109.80 332.20Z" fill="#000" stroke="#000" stroke-width="0.6" stroke-linejoin="round"/>
<path d="M89.60 324.00 C92.00 320.00,95.50 318.00,98.00 319.30 C101.00 320.80,102.00 326.50,104.50 328.50 C106.50 330.00,108.50 330.30,110.50 330.00" fill="none" stroke="#000" stroke-width="1.35" stroke-linecap="round"/>
<text x="152.50" y="323.30" font-size="7.4" textLength="17.90" lengthAdjust="spacingAndGlyphs" >1 day</text>
<line x1="142.90" y1="327.60" x2="176.10" y2="327.60" stroke="#000" stroke-width="1.1" />
<path d="M180.40 327.60L175.60 329.60L175.60 325.60Z" fill="#000"/>
<text x="211.50" y="293.00" font-size="6.2" textLength="17.30" lengthAdjust="spacingAndGlyphs" >Day 0</text>
<text x="185.20" y="304.10" font-size="7.2" textLength="16.70" lengthAdjust="spacingAndGlyphs" >Non-</text>
<text x="174.60" y="312.80" font-size="7.2" textLength="36.60" lengthAdjust="spacingAndGlyphs" >transduced</text>
<text x="178.50" y="321.40" font-size="7.2" textLength="29.20" lengthAdjust="spacingAndGlyphs" >iNK cells</text>
<text x="181.90" y="336.20" font-size="7.2" textLength="28.30" lengthAdjust="spacingAndGlyphs" >iDuo NK</text>
<text x="188.50" y="345.50" font-size="7.2" textLength="14.60" lengthAdjust="spacingAndGlyphs" >cells</text>
<circle cx="216.90" cy="304.10" r="1.35" fill="#3c9c4c"/>
<circle cx="222.20" cy="304.10" r="1.35" fill="#3c9c4c"/>
<circle cx="226.00" cy="307.60" r="1.35" fill="#3c9c4c"/>
<circle cx="220.40" cy="309.20" r="1.35" fill="#3c9c4c"/>
<circle cx="215.50" cy="310.40" r="1.35" fill="#3c9c4c"/>
<circle cx="223.80" cy="312.50" r="1.35" fill="#3c9c4c"/>
<circle cx="218.70" cy="314.30" r="1.35" fill="#3c9c4c"/>
<circle cx="216.90" cy="333.60" r="1.35" fill="#1c3f66"/>
<circle cx="222.20" cy="333.60" r="1.35" fill="#1c3f66"/>
<circle cx="226.00" cy="337.10" r="1.35" fill="#1c3f66"/>
<circle cx="220.40" cy="338.70" r="1.35" fill="#1c3f66"/>
<circle cx="215.50" cy="339.90" r="1.35" fill="#1c3f66"/>
<circle cx="223.80" cy="342.00" r="1.35" fill="#1c3f66"/>
<circle cx="218.70" cy="343.80" r="1.35" fill="#1c3f66"/>
<line x1="230.20" y1="309.80" x2="249.28" y2="296.37" stroke="#000" stroke-width="1.1" />
<path d="M252.80 293.90L250.03 298.30L247.72 295.03Z" fill="#000"/>
<line x1="230.20" y1="340.30" x2="249.00" y2="326.90" stroke="#000" stroke-width="1.1" />
<path d="M252.50 324.40L249.75 328.82L247.43 325.56Z" fill="#000"/>
<path d="M258.30 294.60 L260.30 295.60 L262.20 292.40 L264.80 289.40 L268.80 287.80 L272.70 287.60 L277.30 288.30 L280.50 288.10 L281.50 286.60 L282.50 287.60 L283.50 286.60 L284.30 287.70 L285.80 289.40 L289.00 291.70 L288.40 293.00 L286.40 293.70 L282.50 295.30 L281.80 297.70 L283.80 299.20 L281.30 299.60 L279.90 298.60 L277.90 297.90 L274.00 298.20 L272.70 298.90 L273.20 300.50 L269.40 300.50 L269.10 299.20 L266.10 299.60 L264.20 300.90 L262.20 300.50 L261.20 298.90 L260.60 296.90Z" fill="#000" stroke="#000" stroke-width="0.6" stroke-linejoin="round"/>
<path d="M240.40 288.70 C242.80 284.70,246.30 282.70,248.80 284.00 C251.80 285.50,252.80 291.20,255.30 293.20 C257.30 294.70,259.30 295.00,261.30 294.70" fill="none" stroke="#000" stroke-width="1.35" stroke-linecap="round"/>
<path d="M258.40 324.60 L260.40 325.60 L262.30 322.40 L264.90 319.40 L268.90 317.80 L272.80 317.60 L277.40 318.30 L280.60 318.10 L281.60 316.60 L282.60 317.60 L283.60 316.60 L284.40 317.70 L285.90 319.40 L289.10 321.70 L288.50 323.00 L286.50 323.70 L282.60 325.30 L281.90 327.70 L283.90 329.20 L281.40 329.60 L280.00 328.60 L278.00 327.90 L274.10 328.20 L272.80 328.90 L273.30 330.50 L269.50 330.50 L269.20 329.20 L266.20 329.60 L264.30 330.90 L262.30 330.50 L261.30 328.90 L260.70 326.90Z" fill="#000" stroke="#000" stroke-width="0.6" stroke-linejoin="round"/>
<path d="M240.50 318.70 C242.90 314.70,246.40 312.70,248.90 314.00 C251.90 315.50,252.90 321.20,255.40 323.20 C257.40 324.70,259.40 325.00,261.40 324.70" fill="none" stroke="#000" stroke-width="1.35" stroke-linecap="round"/>
<text x="238.70" y="310.90" font-size="6.0" textLength="59.10" lengthAdjust="spacingAndGlyphs" >Inject i.v. (+/− ritux.)</text>
<text x="238.70" y="340.80" font-size="6.0" textLength="59.10" lengthAdjust="spacingAndGlyphs" >Inject i.v. (+/− ritux.)</text>
<line x1="290.60" y1="297.80" x2="313.90" y2="308.80" stroke="#231f20" stroke-width="1.0" />
<line x1="291.00" y1="320.10" x2="313.90" y2="308.80" stroke="#231f20" stroke-width="1.0" />
<line x1="313.70" y1="308.80" x2="461.20" y2="308.80" stroke="#231f20" stroke-width="1.0" />
<line x1="332.00" y1="308.80" x2="332.00" y2="306.00" stroke="#231f20" stroke-width="1.0" />
<line x1="367.20" y1="308.80" x2="367.20" y2="306.00" stroke="#231f20" stroke-width="1.0" />
<line x1="402.50" y1="308.80" x2="402.50" y2="306.00" stroke="#231f20" stroke-width="1.0" />
<line x1="437.50" y1="308.80" x2="437.50" y2="306.00" stroke="#231f20" stroke-width="1.0" />
<text x="317.40" y="293.80" font-size="7.4" textLength="29.20" lengthAdjust="spacingAndGlyphs" >iNK cells</text>
<text x="316.50" y="302.70" font-size="7.4" textLength="31.20" lengthAdjust="spacingAndGlyphs" >+/− ritux.</text>
<text x="352.85" y="293.80" font-size="7.4" textLength="28.70" lengthAdjust="spacingAndGlyphs" >iNK cells</text>
<text x="351.50" y="302.70" font-size="7.4" textLength="30.80" lengthAdjust="spacingAndGlyphs" >+/− ritux.</text>
<text x="392.55" y="293.80" font-size="7.4" textLength="19.70" lengthAdjust="spacingAndGlyphs" >Blood</text>
<text x="394.40" y="302.70" font-size="7.4" textLength="16.40" lengthAdjust="spacingAndGlyphs" >draw</text>
<text x="414.95" y="285.50" font-size="7.4" textLength="44.90" lengthAdjust="spacingAndGlyphs" >Bone marrow</text>
<text x="418.45" y="293.80" font-size="7.4" textLength="37.50" lengthAdjust="spacingAndGlyphs" >and spleen</text>
<text x="425.00" y="302.70" font-size="7.4" textLength="24.60" lengthAdjust="spacingAndGlyphs" >harvest</text>
<text x="323.10" y="318.10" font-size="7.4" textLength="18.40" lengthAdjust="spacingAndGlyphs" >Day 7</text>
<text x="355.45" y="318.10" font-size="7.4" textLength="22.30" lengthAdjust="spacingAndGlyphs" >Day 14</text>
<text x="390.60" y="318.10" font-size="7.4" textLength="23.40" lengthAdjust="spacingAndGlyphs" >Day 21</text>
<text x="425.60" y="318.10" font-size="7.4" textLength="23.40" lengthAdjust="spacingAndGlyphs" >Day 28</text>
<text x="0.60" y="386.40" font-size="10" fill="#000" font-weight="bold" textLength="6.60" lengthAdjust="spacingAndGlyphs" >E</text>
<text x="65.10" y="386.30" font-size="10.1" textLength="58.20" lengthAdjust="spacingAndGlyphs" >Day 14 blood</text>
<text transform="translate(23.80,449.70) rotate(-90)" font-size="8.4" text-anchor="middle" textLength="26.00" lengthAdjust="spacingAndGlyphs" >Cells/µl</text>
<rect x="51.95" y="477.32" width="9.50" height="11.98" fill="#8fb1d4"/>
<line x1="56.70" y1="477.32" x2="56.70" y2="470.58" stroke="#1b4a7a" stroke-width="0.9" />
<line x1="54.30" y1="470.58" x2="59.10" y2="470.58" stroke="#1b4a7a" stroke-width="0.9" />
<circle cx="56.70" cy="452.80" r="1.50" fill="#1b4a7a"/>
<circle cx="56.70" cy="472.45" r="1.50" fill="#1b4a7a"/>
<circle cx="53.90" cy="485.56" r="1.50" fill="#1b4a7a"/>
<circle cx="59.50" cy="486.12" r="1.50" fill="#1b4a7a"/>
<circle cx="56.70" cy="488.36" r="1.50" fill="#1b4a7a"/>
<rect x="67.25" y="463.47" width="9.50" height="25.83" fill="#93d39b"/>
<line x1="72.00" y1="463.47" x2="72.00" y2="462.53" stroke="#2a5a35" stroke-width="0.9" />
<line x1="69.60" y1="462.53" x2="74.40" y2="462.53" stroke="#2a5a35" stroke-width="0.9" />
<rect x="70.50" y="457.47" width="3.00" height="3.00" fill="#2f9e4c"/>
<rect x="67.90" y="463.46" width="3.00" height="3.00" fill="#2f9e4c"/>
<rect x="73.10" y="462.90" width="3.00" height="3.00" fill="#2f9e4c"/>
<rect x="70.50" y="468.33" width="3.00" height="3.00" fill="#2f9e4c"/>
<rect x="70.50" y="471.70" width="3.00" height="3.00" fill="#2f9e4c"/>
<rect x="82.15" y="477.51" width="9.50" height="11.79" fill="#9bd6f3"/>
<line x1="86.90" y1="477.51" x2="86.90" y2="475.26" stroke="#1f5f85" stroke-width="0.9" />
<line x1="84.50" y1="475.26" x2="89.30" y2="475.26" stroke="#1f5f85" stroke-width="0.9" />
<path d="M86.90 468.12L88.48 470.97L85.33 470.97Z" fill="#27a6dc"/>
<path d="M84.30 476.36L85.88 479.21L82.73 479.21Z" fill="#27a6dc"/>
<path d="M89.50 476.36L91.08 479.21L87.92 479.21Z" fill="#27a6dc"/>
<path d="M84.30 481.04L85.88 483.89L82.73 483.89Z" fill="#27a6dc"/>
<path d="M89.50 481.04L91.08 483.89L87.92 483.89Z" fill="#27a6dc"/>
<rect x="97.45" y="449.43" width="9.50" height="39.87" fill="#fdc98a"/>
<line x1="102.20" y1="449.43" x2="102.20" y2="438.94" stroke="#4a3a2a" stroke-width="0.9" />
<line x1="99.80" y1="438.94" x2="104.60" y2="438.94" stroke="#4a3a2a" stroke-width="0.9" />
<path d="M99.40 431.67L100.98 428.82L97.83 428.82Z" fill="#eaa435"/>
<path d="M105.00 431.67L106.58 428.82L103.42 428.82Z" fill="#eaa435"/>
<path d="M102.20 439.34L103.78 436.49L100.62 436.49Z" fill="#eaa435"/>
<path d="M102.20 470.79L103.78 467.94L100.62 467.94Z" fill="#eaa435"/>
<path d="M102.20 480.15L103.78 477.30L100.62 477.30Z" fill="#eaa435"/>
<rect x="112.75" y="478.82" width="9.50" height="10.48" fill="#ef8fa4"/>
<line x1="117.50" y1="478.82" x2="117.50" y2="475.26" stroke="#4a2030" stroke-width="0.9" />
<line x1="115.10" y1="475.26" x2="119.90" y2="475.26" stroke="#4a2030" stroke-width="0.9" />
<path d="M117.50 466.29L119.37 468.33L117.50 470.37L115.63 468.33Z" fill="#bf1440"/>
<path d="M117.50 469.48L119.37 471.52L117.50 473.56L115.63 471.52Z" fill="#bf1440"/>
<path d="M114.50 481.27L116.37 483.31L114.50 485.35L112.63 483.31Z" fill="#bf1440"/>
<path d="M117.50 481.27L119.37 483.31L117.50 485.35L115.63 483.31Z" fill="#bf1440"/>
<path d="M120.50 481.27L122.37 483.31L120.50 485.35L118.63 483.31Z" fill="#bf1440"/>
<rect x="127.65" y="467.77" width="9.50" height="21.53" fill="#f48ccf"/>
<line x1="132.40" y1="467.77" x2="132.40" y2="463.09" stroke="#5a2045" stroke-width="0.9" />
<line x1="130.00" y1="463.09" x2="134.80" y2="463.09" stroke="#5a2045" stroke-width="0.9" />
<circle cx="132.40" cy="459.35" r="1.50" fill="#dc2185"/>
<circle cx="129.60" cy="464.03" r="1.50" fill="#dc2185"/>
<circle cx="135.20" cy="463.28" r="1.50" fill="#dc2185"/>
<circle cx="132.40" cy="467.02" r="1.50" fill="#dc2185"/>
<circle cx="132.40" cy="479.75" r="1.50" fill="#dc2185"/>
<line x1="45.50" y1="410.92" x2="45.50" y2="489.93" stroke="#231f20" stroke-width="1.25" />
<line x1="44.88" y1="489.30" x2="143.70" y2="489.30" stroke="#231f20" stroke-width="1.25" />
<line x1="42.30" y1="489.30" x2="45.50" y2="489.30" stroke="#231f20" stroke-width="0.9" />
<text x="39.90" y="492.30" font-size="8.6" text-anchor="end" textLength="4.55" lengthAdjust="spacingAndGlyphs" >0</text>
<line x1="42.30" y1="470.58" x2="45.50" y2="470.58" stroke="#231f20" stroke-width="0.9" />
<text x="39.90" y="473.58" font-size="8.6" text-anchor="end" textLength="9.10" lengthAdjust="spacingAndGlyphs" >10</text>
<line x1="42.30" y1="451.86" x2="45.50" y2="451.86" stroke="#231f20" stroke-width="0.9" />
<text x="39.90" y="454.86" font-size="8.6" text-anchor="end" textLength="9.10" lengthAdjust="spacingAndGlyphs" >20</text>
<line x1="42.30" y1="433.14" x2="45.50" y2="433.14" stroke="#231f20" stroke-width="0.9" />
<text x="39.90" y="436.14" font-size="8.6" text-anchor="end" textLength="9.10" lengthAdjust="spacingAndGlyphs" >30</text>
<line x1="42.30" y1="414.42" x2="45.50" y2="414.42" stroke="#231f20" stroke-width="0.9" />
<text x="39.90" y="417.42" font-size="8.6" text-anchor="end" textLength="9.10" lengthAdjust="spacingAndGlyphs" >40</text>
<line x1="56.70" y1="489.30" x2="56.70" y2="491.90" stroke="#231f20" stroke-width="0.9" />
<line x1="72.00" y1="489.30" x2="72.00" y2="491.90" stroke="#231f20" stroke-width="0.9" />
<line x1="86.90" y1="489.30" x2="86.90" y2="491.90" stroke="#231f20" stroke-width="0.9" />
<line x1="102.20" y1="489.30" x2="102.20" y2="491.90" stroke="#231f20" stroke-width="0.9" />
<line x1="117.50" y1="489.30" x2="117.50" y2="491.90" stroke="#231f20" stroke-width="0.9" />
<line x1="132.40" y1="489.30" x2="132.40" y2="491.90" stroke="#231f20" stroke-width="0.9" />
<line x1="57.40" y1="420.50" x2="102.20" y2="420.50" stroke="#231f20" stroke-width="1.0" />
<circle cx="79.80" cy="416.80" r="1.35" fill="#231f20"/>
<line x1="86.90" y1="426.50" x2="101.60" y2="426.50" stroke="#231f20" stroke-width="1.0" />
<circle cx="94.25" cy="422.80" r="1.35" fill="#231f20"/>
<line x1="102.90" y1="426.50" x2="117.90" y2="426.50" stroke="#231f20" stroke-width="1.0" />
<circle cx="110.40" cy="422.80" r="1.35" fill="#231f20"/>
<text x="252.00" y="386.60" font-size="10.1" textLength="58.00" lengthAdjust="spacingAndGlyphs" >Day 21 blood</text>
<text transform="translate(207.00,449.70) rotate(-90)" font-size="8.4" text-anchor="middle" textLength="26.00" lengthAdjust="spacingAndGlyphs" >Cells/µl</text>
<rect x="238.85" y="487.00" width="9.50" height="2.50" fill="#8fb1d4"/>
<line x1="243.60" y1="487.00" x2="243.60" y2="486.00" stroke="#1b4a7a" stroke-width="0.9" />
<line x1="241.20" y1="486.00" x2="246.00" y2="486.00" stroke="#1b4a7a" stroke-width="0.9" />
<circle cx="240.80" cy="484.00" r="1.50" fill="#1b4a7a"/>
<circle cx="243.60" cy="485.00" r="1.50" fill="#1b4a7a"/>
<circle cx="246.40" cy="485.50" r="1.50" fill="#1b4a7a"/>
<circle cx="242.10" cy="486.50" r="1.50" fill="#1b4a7a"/>
<circle cx="245.10" cy="487.00" r="1.50" fill="#1b4a7a"/>
<rect x="253.65" y="459.00" width="9.50" height="30.50" fill="#93d39b"/>
<line x1="258.40" y1="459.00" x2="258.40" y2="451.20" stroke="#2a5a35" stroke-width="0.9" />
<line x1="256.00" y1="451.20" x2="260.80" y2="451.20" stroke="#2a5a35" stroke-width="0.9" />
<rect x="256.90" y="432.10" width="3.00" height="3.00" fill="#2f9e4c"/>
<rect x="256.90" y="452.00" width="3.00" height="3.00" fill="#2f9e4c"/>
<rect x="254.10" y="462.50" width="3.00" height="3.00" fill="#2f9e4c"/>
<rect x="259.70" y="463.30" width="3.00" height="3.00" fill="#2f9e4c"/>
<rect x="256.90" y="476.50" width="3.00" height="3.00" fill="#2f9e4c"/>
<rect x="268.95" y="487.00" width="9.50" height="2.50" fill="#9bd6f3"/>
<line x1="273.70" y1="487.00" x2="273.70" y2="486.00" stroke="#1f5f85" stroke-width="0.9" />
<line x1="271.30" y1="486.00" x2="276.10" y2="486.00" stroke="#1f5f85" stroke-width="0.9" />
<path d="M276.50 482.79L278.07 485.64L274.93 485.64Z" fill="#27a6dc"/>
<path d="M270.90 484.29L272.47 487.14L269.32 487.14Z" fill="#27a6dc"/>
<path d="M273.70 485.29L275.27 488.14L272.12 488.14Z" fill="#27a6dc"/>
<path d="M275.20 486.29L276.77 489.14L273.62 489.14Z" fill="#27a6dc"/>
<rect x="284.25" y="459.90" width="9.50" height="29.60" fill="#fdc98a"/>
<line x1="289.00" y1="459.90" x2="289.00" y2="449.50" stroke="#4a3a2a" stroke-width="0.9" />
<line x1="286.60" y1="449.50" x2="291.40" y2="449.50" stroke="#4a3a2a" stroke-width="0.9" />
<path d="M289.00 423.71L290.57 420.86L287.43 420.86Z" fill="#eaa435"/>
<path d="M289.00 464.21L290.57 461.36L287.43 461.36Z" fill="#eaa435"/>
<path d="M289.00 475.71L290.57 472.86L287.43 472.86Z" fill="#eaa435"/>
<path d="M289.00 478.71L290.57 475.86L287.43 475.86Z" fill="#eaa435"/>
<rect x="299.05" y="485.50" width="9.50" height="4.00" fill="#ef8fa4"/>
<line x1="303.80" y1="485.50" x2="303.80" y2="483.00" stroke="#4a2030" stroke-width="0.9" />
<line x1="301.40" y1="483.00" x2="306.20" y2="483.00" stroke="#4a2030" stroke-width="0.9" />
<path d="M302.00 478.46L303.87 480.50L302.00 482.54L300.13 480.50Z" fill="#bf1440"/>
<path d="M305.60 478.46L307.47 480.50L305.60 482.54L303.73 480.50Z" fill="#bf1440"/>
<path d="M303.80 482.46L305.67 484.50L303.80 486.54L301.93 484.50Z" fill="#bf1440"/>
<path d="M300.80 484.96L302.67 487.00L300.80 489.04L298.93 487.00Z" fill="#bf1440"/>
<path d="M306.80 484.96L308.67 487.00L306.80 489.04L304.93 487.00Z" fill="#bf1440"/>
<rect x="314.35" y="475.20" width="9.50" height="14.30" fill="#f48ccf"/>
<line x1="319.10" y1="475.20" x2="319.10" y2="469.20" stroke="#5a2045" stroke-width="0.9" />
<line x1="316.70" y1="469.20" x2="321.50" y2="469.20" stroke="#5a2045" stroke-width="0.9" />
<circle cx="319.10" cy="454.50" r="1.50" fill="#dc2185"/>
<circle cx="319.10" cy="471.50" r="1.50" fill="#dc2185"/>
<circle cx="316.10" cy="480.50" r="1.50" fill="#dc2185"/>
<circle cx="322.10" cy="480.50" r="1.50" fill="#dc2185"/>
<circle cx="319.10" cy="484.50" r="1.50" fill="#dc2185"/>
<line x1="232.60" y1="411.00" x2="232.60" y2="490.12" stroke="#231f20" stroke-width="1.25" />
<line x1="231.97" y1="489.50" x2="330.10" y2="489.50" stroke="#231f20" stroke-width="1.25" />
<line x1="229.40" y1="489.50" x2="232.60" y2="489.50" stroke="#231f20" stroke-width="0.9" />
<text x="225.90" y="492.50" font-size="8.6" text-anchor="end" textLength="4.10" lengthAdjust="spacingAndGlyphs" >0</text>
<line x1="229.40" y1="464.50" x2="232.60" y2="464.50" stroke="#231f20" stroke-width="0.9" />
<text x="225.90" y="467.50" font-size="8.6" text-anchor="end" textLength="8.20" lengthAdjust="spacingAndGlyphs" >50</text>
<line x1="229.40" y1="439.50" x2="232.60" y2="439.50" stroke="#231f20" stroke-width="0.9" />
<text x="225.90" y="442.50" font-size="8.6" text-anchor="end" textLength="12.30" lengthAdjust="spacingAndGlyphs" >100</text>
<line x1="229.40" y1="414.50" x2="232.60" y2="414.50" stroke="#231f20" stroke-width="0.9" />
<text x="225.90" y="417.50" font-size="8.6" text-anchor="end" textLength="12.30" lengthAdjust="spacingAndGlyphs" >150</text>
<line x1="243.60" y1="489.50" x2="243.60" y2="492.10" stroke="#231f20" stroke-width="0.9" />
<line x1="258.40" y1="489.50" x2="258.40" y2="492.10" stroke="#231f20" stroke-width="0.9" />
<line x1="273.70" y1="489.50" x2="273.70" y2="492.10" stroke="#231f20" stroke-width="0.9" />
<line x1="289.00" y1="489.50" x2="289.00" y2="492.10" stroke="#231f20" stroke-width="0.9" />
<line x1="303.80" y1="489.50" x2="303.80" y2="492.10" stroke="#231f20" stroke-width="0.9" />
<line x1="319.10" y1="489.50" x2="319.10" y2="492.10" stroke="#231f20" stroke-width="0.9" />
<line x1="243.60" y1="398.50" x2="289.00" y2="398.50" stroke="#231f20" stroke-width="1.0" />
<circle cx="266.30" cy="394.80" r="1.35" fill="#231f20"/>
<line x1="243.10" y1="406.50" x2="257.60" y2="406.50" stroke="#231f20" stroke-width="1.0" />
<circle cx="250.35" cy="402.80" r="1.35" fill="#231f20"/>
<line x1="259.60" y1="406.50" x2="274.00" y2="406.50" stroke="#231f20" stroke-width="1.0" />
<circle cx="266.80" cy="402.80" r="1.35" fill="#231f20"/>
<line x1="258.40" y1="410.50" x2="303.80" y2="410.50" stroke="#231f20" stroke-width="1.0" />
<circle cx="281.10" cy="406.80" r="1.35" fill="#231f20"/>
<line x1="273.70" y1="418.50" x2="288.20" y2="418.50" stroke="#231f20" stroke-width="1.0" />
<circle cx="280.95" cy="414.80" r="1.35" fill="#231f20"/>
<line x1="289.80" y1="418.50" x2="304.30" y2="418.50" stroke="#231f20" stroke-width="1.0" />
<circle cx="297.05" cy="414.80" r="1.35" fill="#231f20"/>
<text x="439.75" y="386.60" font-size="10.1" textLength="58.10" lengthAdjust="spacingAndGlyphs" >Day 28 blood</text>
<text transform="translate(394.10,449.70) rotate(-90)" font-size="8.4" text-anchor="middle" textLength="26.00" lengthAdjust="spacingAndGlyphs" >Cells/µl</text>
<rect x="426.05" y="488.26" width="9.50" height="0.74" fill="#8fb1d4"/>
<line x1="430.80" y1="488.26" x2="430.80" y2="487.88" stroke="#1b4a7a" stroke-width="0.9" />
<line x1="428.40" y1="487.88" x2="433.20" y2="487.88" stroke="#1b4a7a" stroke-width="0.9" />
<circle cx="428.30" cy="487.88" r="1.50" fill="#1b4a7a"/>
<circle cx="430.80" cy="488.07" r="1.50" fill="#1b4a7a"/>
<circle cx="433.30" cy="488.26" r="1.50" fill="#1b4a7a"/>
<circle cx="430.80" cy="488.63" r="1.50" fill="#1b4a7a"/>
<rect x="441.15" y="451.20" width="9.50" height="37.80" fill="#93d39b"/>
<line x1="445.90" y1="451.20" x2="445.90" y2="444.36" stroke="#2a5a35" stroke-width="0.9" />
<line x1="443.50" y1="444.36" x2="448.30" y2="444.36" stroke="#2a5a35" stroke-width="0.9" />
<rect x="444.40" y="429.10" width="3.00" height="3.00" fill="#2f9e4c"/>
<rect x="444.40" y="439.51" width="3.00" height="3.00" fill="#2f9e4c"/>
<rect x="441.40" y="455.69" width="3.00" height="3.00" fill="#2f9e4c"/>
<rect x="447.40" y="455.88" width="3.00" height="3.00" fill="#2f9e4c"/>
<rect x="444.40" y="465.92" width="3.00" height="3.00" fill="#2f9e4c"/>
<rect x="456.35" y="488.63" width="9.50" height="0.37" fill="#9bd6f3"/>
<line x1="461.10" y1="488.63" x2="461.10" y2="488.26" stroke="#1f5f85" stroke-width="0.9" />
<line x1="458.70" y1="488.26" x2="463.50" y2="488.26" stroke="#1f5f85" stroke-width="0.9" />
<path d="M458.60 486.55L460.18 489.40L457.03 489.40Z" fill="#27a6dc"/>
<path d="M461.10 486.73L462.68 489.58L459.53 489.58Z" fill="#27a6dc"/>
<path d="M463.60 486.92L465.18 489.77L462.03 489.77Z" fill="#27a6dc"/>
<rect x="471.55" y="471.00" width="9.50" height="18.00" fill="#fdc98a"/>
<line x1="476.30" y1="471.00" x2="476.30" y2="465.79" stroke="#4a3a2a" stroke-width="0.9" />
<line x1="473.90" y1="465.79" x2="478.70" y2="465.79" stroke="#4a3a2a" stroke-width="0.9" />
<path d="M476.30 459.83L477.88 456.98L474.73 456.98Z" fill="#eaa435"/>
<path d="M476.30 462.44L477.88 459.59L474.73 459.59Z" fill="#eaa435"/>
<path d="M476.30 474.34L477.88 471.49L474.73 471.49Z" fill="#eaa435"/>
<path d="M476.30 477.69L477.88 474.84L474.73 474.84Z" fill="#eaa435"/>
<path d="M476.30 481.22L477.88 478.37L474.73 478.37Z" fill="#eaa435"/>
<rect x="486.55" y="487.14" width="9.50" height="1.86" fill="#ef8fa4"/>
<line x1="491.30" y1="487.14" x2="491.30" y2="486.02" stroke="#4a2030" stroke-width="0.9" />
<line x1="488.90" y1="486.02" x2="493.70" y2="486.02" stroke="#4a2030" stroke-width="0.9" />
<path d="M491.30 481.01L493.17 483.05L491.30 485.09L489.43 483.05Z" fill="#bf1440"/>
<path d="M491.30 484.36L493.17 486.40L491.30 488.44L489.43 486.40Z" fill="#bf1440"/>
<path d="M488.30 485.84L490.17 487.88L488.30 489.92L486.43 487.88Z" fill="#bf1440"/>
<path d="M494.30 485.84L496.17 487.88L494.30 489.92L492.43 487.88Z" fill="#bf1440"/>
<rect x="501.65" y="474.72" width="9.50" height="14.28" fill="#f48ccf"/>
<line x1="506.40" y1="474.72" x2="506.40" y2="471.00" stroke="#5a2045" stroke-width="0.9" />
<line x1="504.00" y1="471.00" x2="508.80" y2="471.00" stroke="#5a2045" stroke-width="0.9" />
<circle cx="506.40" cy="464.08" r="1.50" fill="#dc2185"/>
<circle cx="503.80" cy="477.10" r="1.50" fill="#dc2185"/>
<circle cx="509.40" cy="478.58" r="1.50" fill="#dc2185"/>
<circle cx="506.40" cy="484.72" r="1.50" fill="#dc2185"/>
<line x1="420.50" y1="411.10" x2="420.50" y2="489.62" stroke="#231f20" stroke-width="1.25" />
<line x1="419.88" y1="489.00" x2="517.60" y2="489.00" stroke="#231f20" stroke-width="1.25" />
<line x1="417.30" y1="489.00" x2="420.50" y2="489.00" stroke="#231f20" stroke-width="0.9" />
<text x="413.80" y="492.00" font-size="8.6" text-anchor="end" textLength="4.33" lengthAdjust="spacingAndGlyphs" >0</text>
<line x1="417.30" y1="470.40" x2="420.50" y2="470.40" stroke="#231f20" stroke-width="0.9" />
<text x="413.80" y="473.40" font-size="8.6" text-anchor="end" textLength="8.66" lengthAdjust="spacingAndGlyphs" >50</text>
<line x1="417.30" y1="451.80" x2="420.50" y2="451.80" stroke="#231f20" stroke-width="0.9" />
<text x="413.80" y="454.80" font-size="8.6" text-anchor="end" textLength="12.99" lengthAdjust="spacingAndGlyphs" >100</text>
<line x1="417.30" y1="433.20" x2="420.50" y2="433.20" stroke="#231f20" stroke-width="0.9" />
<text x="413.80" y="436.20" font-size="8.6" text-anchor="end" textLength="12.99" lengthAdjust="spacingAndGlyphs" >150</text>
<line x1="417.30" y1="414.60" x2="420.50" y2="414.60" stroke="#231f20" stroke-width="0.9" />
<text x="413.80" y="417.60" font-size="8.6" text-anchor="end" textLength="12.99" lengthAdjust="spacingAndGlyphs" >200</text>
<line x1="430.80" y1="489.00" x2="430.80" y2="491.60" stroke="#231f20" stroke-width="0.9" />
<line x1="445.90" y1="489.00" x2="445.90" y2="491.60" stroke="#231f20" stroke-width="0.9" />
<line x1="461.10" y1="489.00" x2="461.10" y2="491.60" stroke="#231f20" stroke-width="0.9" />
<line x1="476.30" y1="489.00" x2="476.30" y2="491.60" stroke="#231f20" stroke-width="0.9" />
<line x1="491.30" y1="489.00" x2="491.30" y2="491.60" stroke="#231f20" stroke-width="0.9" />
<line x1="506.40" y1="489.00" x2="506.40" y2="491.60" stroke="#231f20" stroke-width="0.9" />
<line x1="430.80" y1="396.50" x2="476.30" y2="396.50" stroke="#231f20" stroke-width="1.0" />
<circle cx="453.55" cy="392.80" r="1.35" fill="#231f20"/>
<line x1="430.10" y1="404.50" x2="444.20" y2="404.50" stroke="#231f20" stroke-width="1.0" />
<circle cx="432.35" cy="400.80" r="1.35" fill="#231f20"/>
<circle cx="435.55" cy="400.80" r="1.35" fill="#231f20"/>
<circle cx="438.75" cy="400.80" r="1.35" fill="#231f20"/>
<circle cx="441.95" cy="400.80" r="1.35" fill="#231f20"/>
<line x1="448.50" y1="404.50" x2="462.80" y2="404.50" stroke="#231f20" stroke-width="1.0" />
<circle cx="450.85" cy="400.80" r="1.35" fill="#231f20"/>
<circle cx="454.05" cy="400.80" r="1.35" fill="#231f20"/>
<circle cx="457.25" cy="400.80" r="1.35" fill="#231f20"/>
<circle cx="460.45" cy="400.80" r="1.35" fill="#231f20"/>
<line x1="445.90" y1="411.50" x2="476.30" y2="411.50" stroke="#231f20" stroke-width="1.0" />
<circle cx="459.50" cy="407.80" r="1.35" fill="#231f20"/>
<circle cx="462.70" cy="407.80" r="1.35" fill="#231f20"/>
<line x1="445.90" y1="419.50" x2="491.80" y2="419.50" stroke="#231f20" stroke-width="1.0" />
<circle cx="464.05" cy="415.80" r="1.35" fill="#231f20"/>
<circle cx="467.25" cy="415.80" r="1.35" fill="#231f20"/>
<circle cx="470.45" cy="415.80" r="1.35" fill="#231f20"/>
<circle cx="473.65" cy="415.80" r="1.35" fill="#231f20"/>
<line x1="445.90" y1="426.50" x2="506.40" y2="426.50" stroke="#231f20" stroke-width="1.0" />
<circle cx="471.35" cy="422.80" r="1.35" fill="#231f20"/>
<circle cx="474.55" cy="422.80" r="1.35" fill="#231f20"/>
<circle cx="477.75" cy="422.80" r="1.35" fill="#231f20"/>
<circle cx="480.95" cy="422.80" r="1.35" fill="#231f20"/>
<text x="47.30" y="519.40" font-size="10.1" textLength="90.40" lengthAdjust="spacingAndGlyphs" >Day 28 bone marrow</text>
<text transform="translate(10.00,594.60) rotate(-90)" font-size="8.4" text-anchor="middle" textLength="50.10" lengthAdjust="spacingAndGlyphs" >Total cell count</text>
<rect x="50.35" y="623.40" width="9.50" height="10.60" fill="#8fb1d4"/>
<line x1="55.10" y1="623.40" x2="55.10" y2="620.59" stroke="#1b4a7a" stroke-width="0.9" />
<line x1="52.70" y1="620.59" x2="57.50" y2="620.59" stroke="#1b4a7a" stroke-width="0.9" />
<circle cx="52.60" cy="618.80" r="1.50" fill="#1b4a7a"/>
<circle cx="57.60" cy="618.80" r="1.50" fill="#1b4a7a"/>
<circle cx="55.10" cy="621.49" r="1.50" fill="#1b4a7a"/>
<circle cx="52.60" cy="623.40" r="1.50" fill="#1b4a7a"/>
<circle cx="57.60" cy="623.40" r="1.50" fill="#1b4a7a"/>
<rect x="65.25" y="609.36" width="9.50" height="24.64" fill="#93d39b"/>
<line x1="70.00" y1="609.36" x2="70.00" y2="604.79" stroke="#2a5a35" stroke-width="0.9" />
<line x1="67.60" y1="604.79" x2="72.40" y2="604.79" stroke="#2a5a35" stroke-width="0.9" />
<rect x="68.50" y="595.27" width="3.00" height="3.00" fill="#2f9e4c"/>
<rect x="68.50" y="604.19" width="3.00" height="3.00" fill="#2f9e4c"/>
<rect x="65.90" y="610.18" width="3.00" height="3.00" fill="#2f9e4c"/>
<rect x="71.10" y="610.18" width="3.00" height="3.00" fill="#2f9e4c"/>
<rect x="68.50" y="615.42" width="3.00" height="3.00" fill="#2f9e4c"/>
<path d="M83.00 631.84L84.58 634.69L81.42 634.69Z" fill="#27a6dc"/>
<path d="M85.50 631.99L87.08 634.84L83.92 634.84Z" fill="#27a6dc"/>
<path d="M88.00 632.07L89.58 634.92L86.42 634.92Z" fill="#27a6dc"/>
<rect x="95.35" y="625.69" width="9.50" height="8.31" fill="#fdc98a"/>
<line x1="100.10" y1="625.69" x2="100.10" y2="620.22" stroke="#4a3a2a" stroke-width="0.9" />
<line x1="97.70" y1="620.22" x2="102.50" y2="620.22" stroke="#4a3a2a" stroke-width="0.9" />
<path d="M100.10 608.00L101.67 605.15L98.52 605.15Z" fill="#eaa435"/>
<path d="M97.50 629.27L99.08 626.42L95.92 626.42Z" fill="#eaa435"/>
<path d="M102.70 629.27L104.27 626.42L101.12 626.42Z" fill="#eaa435"/>
<path d="M100.10 632.26L101.67 629.41L98.52 629.41Z" fill="#eaa435"/>
<path d="M112.60 631.51L114.47 633.55L112.60 635.59L110.73 633.55Z" fill="#bf1440"/>
<path d="M115.10 631.51L116.97 633.55L115.10 635.59L113.23 633.55Z" fill="#bf1440"/>
<path d="M117.60 631.51L119.47 633.55L117.60 635.59L115.73 633.55Z" fill="#bf1440"/>
<rect x="126.25" y="588.39" width="9.50" height="45.61" fill="#f48ccf"/>
<line x1="131.00" y1="588.39" x2="131.00" y2="579.10" stroke="#5a2045" stroke-width="0.9" />
<line x1="128.60" y1="579.10" x2="133.40" y2="579.10" stroke="#5a2045" stroke-width="0.9" />
<circle cx="131.00" cy="561.57" r="1.50" fill="#dc2185"/>
<circle cx="131.00" cy="591.68" r="1.50" fill="#dc2185"/>
<circle cx="131.00" cy="596.55" r="1.50" fill="#dc2185"/>
<circle cx="131.00" cy="611.08" r="1.50" fill="#dc2185"/>
<line x1="44.40" y1="555.60" x2="44.40" y2="634.62" stroke="#231f20" stroke-width="1.25" />
<line x1="43.77" y1="634.00" x2="141.30" y2="634.00" stroke="#231f20" stroke-width="1.25" />
<line x1="41.20" y1="634.00" x2="44.40" y2="634.00" stroke="#231f20" stroke-width="0.9" />
<text x="37.60" y="637.00" font-size="8.6" text-anchor="end" textLength="4.24" lengthAdjust="spacingAndGlyphs" >0</text>
<line x1="41.20" y1="615.27" x2="44.40" y2="615.27" stroke="#231f20" stroke-width="0.9" />
<text x="37.60" y="618.27" font-size="8.6" text-anchor="end" textLength="16.96" lengthAdjust="spacingAndGlyphs" >2500</text>
<line x1="41.20" y1="596.55" x2="44.40" y2="596.55" stroke="#231f20" stroke-width="0.9" />
<text x="37.60" y="599.55" font-size="8.6" text-anchor="end" textLength="16.96" lengthAdjust="spacingAndGlyphs" >5000</text>
<line x1="41.20" y1="577.83" x2="44.40" y2="577.83" stroke="#231f20" stroke-width="0.9" />
<text x="37.60" y="580.83" font-size="8.6" text-anchor="end" textLength="16.96" lengthAdjust="spacingAndGlyphs" >7500</text>
<line x1="41.20" y1="559.10" x2="44.40" y2="559.10" stroke="#231f20" stroke-width="0.9" />
<text x="37.60" y="562.10" font-size="8.6" text-anchor="end" textLength="21.20" lengthAdjust="spacingAndGlyphs" >10000</text>
<line x1="55.10" y1="634.00" x2="55.10" y2="636.60" stroke="#231f20" stroke-width="0.9" />
<line x1="70.00" y1="634.00" x2="70.00" y2="636.60" stroke="#231f20" stroke-width="0.9" />
<line x1="85.50" y1="634.00" x2="85.50" y2="636.60" stroke="#231f20" stroke-width="0.9" />
<line x1="100.10" y1="634.00" x2="100.10" y2="636.60" stroke="#231f20" stroke-width="0.9" />
<line x1="115.10" y1="634.00" x2="115.10" y2="636.60" stroke="#231f20" stroke-width="0.9" />
<line x1="131.00" y1="634.00" x2="131.00" y2="636.60" stroke="#231f20" stroke-width="0.9" />
<line x1="55.10" y1="529.50" x2="130.60" y2="529.50" stroke="#231f20" stroke-width="1.0" />
<circle cx="88.05" cy="525.80" r="1.35" fill="#231f20"/>
<circle cx="91.25" cy="525.80" r="1.35" fill="#231f20"/>
<circle cx="94.45" cy="525.80" r="1.35" fill="#231f20"/>
<circle cx="97.65" cy="525.80" r="1.35" fill="#231f20"/>
<line x1="70.00" y1="536.50" x2="130.60" y2="536.50" stroke="#231f20" stroke-width="1.0" />
<circle cx="100.30" cy="532.80" r="1.35" fill="#231f20"/>
<line x1="85.50" y1="542.50" x2="130.60" y2="542.50" stroke="#231f20" stroke-width="1.0" />
<circle cx="103.25" cy="538.80" r="1.35" fill="#231f20"/>
<circle cx="106.45" cy="538.80" r="1.35" fill="#231f20"/>
<circle cx="109.65" cy="538.80" r="1.35" fill="#231f20"/>
<circle cx="112.85" cy="538.80" r="1.35" fill="#231f20"/>
<line x1="100.90" y1="550.50" x2="130.60" y2="550.50" stroke="#231f20" stroke-width="1.0" />
<circle cx="110.95" cy="546.80" r="1.35" fill="#231f20"/>
<circle cx="114.15" cy="546.80" r="1.35" fill="#231f20"/>
<circle cx="117.35" cy="546.80" r="1.35" fill="#231f20"/>
<circle cx="120.55" cy="546.80" r="1.35" fill="#231f20"/>
<line x1="116.10" y1="556.50" x2="130.60" y2="556.50" stroke="#231f20" stroke-width="1.0" />
<circle cx="118.55" cy="552.80" r="1.35" fill="#231f20"/>
<circle cx="121.75" cy="552.80" r="1.35" fill="#231f20"/>
<circle cx="124.95" cy="552.80" r="1.35" fill="#231f20"/>
<circle cx="128.15" cy="552.80" r="1.35" fill="#231f20"/>
<line x1="70.00" y1="585.50" x2="114.50" y2="585.50" stroke="#231f20" stroke-width="1.0" />
<circle cx="92.25" cy="581.80" r="1.35" fill="#231f20"/>
<line x1="70.00" y1="593.50" x2="84.60" y2="593.50" stroke="#231f20" stroke-width="1.0" />
<circle cx="75.70" cy="589.80" r="1.35" fill="#231f20"/>
<circle cx="78.90" cy="589.80" r="1.35" fill="#231f20"/>
<text x="265.25" y="519.20" font-size="10.1" textLength="61.30" lengthAdjust="spacingAndGlyphs" >Day 28 spleen</text>
<text transform="translate(186.30,594.80) rotate(-90)" font-size="8.4" text-anchor="middle" textLength="50.50" lengthAdjust="spacingAndGlyphs" >Total cell count</text>
<rect x="235.65" y="633.63" width="9.50" height="0.37" fill="#8fb1d4"/>
<circle cx="237.90" cy="633.40" r="1.50" fill="#1b4a7a"/>
<circle cx="240.40" cy="633.63" r="1.50" fill="#1b4a7a"/>
<circle cx="242.90" cy="633.55" r="1.50" fill="#1b4a7a"/>
<rect x="250.45" y="595.60" width="9.50" height="38.40" fill="#93d39b"/>
<line x1="255.20" y1="595.60" x2="255.20" y2="585.45" stroke="#2a5a35" stroke-width="0.9" />
<line x1="252.80" y1="585.45" x2="257.60" y2="585.45" stroke="#2a5a35" stroke-width="0.9" />
<rect x="251.10" y="570.80" width="3.00" height="3.00" fill="#2f9e4c"/>
<rect x="256.30" y="571.47" width="3.00" height="3.00" fill="#2f9e4c"/>
<rect x="253.70" y="599.71" width="3.00" height="3.00" fill="#2f9e4c"/>
<rect x="253.70" y="605.53" width="3.00" height="3.00" fill="#2f9e4c"/>
<rect x="253.70" y="620.92" width="3.00" height="3.00" fill="#2f9e4c"/>
<rect x="265.85" y="632.51" width="9.50" height="1.49" fill="#9bd6f3"/>
<line x1="270.60" y1="632.51" x2="270.60" y2="629.22" stroke="#1f5f85" stroke-width="0.9" />
<line x1="268.20" y1="629.22" x2="273.00" y2="629.22" stroke="#1f5f85" stroke-width="0.9" />
<path d="M270.60 621.98L272.18 624.83L269.03 624.83Z" fill="#27a6dc"/>
<path d="M270.60 629.68L272.18 632.53L269.03 632.53Z" fill="#27a6dc"/>
<path d="M268.10 631.32L269.68 634.17L266.53 634.17Z" fill="#27a6dc"/>
<path d="M273.10 631.32L274.68 634.17L271.53 634.17Z" fill="#27a6dc"/>
<rect x="280.95" y="602.92" width="9.50" height="31.08" fill="#fdc98a"/>
<line x1="285.70" y1="602.92" x2="285.70" y2="596.05" stroke="#4a3a2a" stroke-width="0.9" />
<line x1="283.30" y1="596.05" x2="288.10" y2="596.05" stroke="#4a3a2a" stroke-width="0.9" />
<path d="M285.70 580.66L287.27 577.81L284.12 577.81Z" fill="#eaa435"/>
<path d="M285.70 603.59L287.27 600.74L284.12 600.74Z" fill="#eaa435"/>
<path d="M285.70 606.50L287.27 603.65L284.12 603.65Z" fill="#eaa435"/>
<path d="M285.70 613.45L287.27 610.60L284.12 610.60Z" fill="#eaa435"/>
<rect x="295.55" y="632.51" width="9.50" height="1.49" fill="#ef8fa4"/>
<path d="M297.80 628.97L299.67 631.01L297.80 633.05L295.93 631.01Z" fill="#bf1440"/>
<path d="M300.30 629.72L302.17 631.76L300.30 633.80L298.43 631.76Z" fill="#bf1440"/>
<path d="M302.80 630.09L304.67 632.13L302.80 634.17L300.93 632.13Z" fill="#bf1440"/>
<rect x="310.95" y="598.97" width="9.50" height="35.03" fill="#f48ccf"/>
<line x1="315.70" y1="598.97" x2="315.70" y2="589.33" stroke="#5a2045" stroke-width="0.9" />
<line x1="313.30" y1="589.33" x2="318.10" y2="589.33" stroke="#5a2045" stroke-width="0.9" />
<circle cx="315.70" cy="568.41" r="1.50" fill="#dc2185"/>
<circle cx="315.70" cy="593.06" r="1.50" fill="#dc2185"/>
<circle cx="315.70" cy="596.50" r="1.50" fill="#dc2185"/>
<circle cx="315.70" cy="613.23" r="1.50" fill="#dc2185"/>
<circle cx="315.70" cy="618.99" r="1.50" fill="#dc2185"/>
<line x1="229.20" y1="555.80" x2="229.20" y2="634.62" stroke="#231f20" stroke-width="1.25" />
<line x1="228.57" y1="634.00" x2="326.20" y2="634.00" stroke="#231f20" stroke-width="1.25" />
<line x1="226.00" y1="634.00" x2="229.20" y2="634.00" stroke="#231f20" stroke-width="0.9" />
<text x="222.30" y="637.00" font-size="8.6" text-anchor="end" textLength="4.19" lengthAdjust="spacingAndGlyphs" >0</text>
<line x1="226.00" y1="619.06" x2="229.20" y2="619.06" stroke="#231f20" stroke-width="0.9" />
<text x="222.30" y="622.06" font-size="8.6" text-anchor="end" textLength="25.14" lengthAdjust="spacingAndGlyphs" >200000</text>
<line x1="226.00" y1="604.12" x2="229.20" y2="604.12" stroke="#231f20" stroke-width="0.9" />
<text x="222.30" y="607.12" font-size="8.6" text-anchor="end" textLength="25.14" lengthAdjust="spacingAndGlyphs" >400000</text>
<line x1="226.00" y1="589.18" x2="229.20" y2="589.18" stroke="#231f20" stroke-width="0.9" />
<text x="222.30" y="592.18" font-size="8.6" text-anchor="end" textLength="25.14" lengthAdjust="spacingAndGlyphs" >600000</text>
<line x1="226.00" y1="574.24" x2="229.20" y2="574.24" stroke="#231f20" stroke-width="0.9" />
<text x="222.30" y="577.24" font-size="8.6" text-anchor="end" textLength="25.14" lengthAdjust="spacingAndGlyphs" >800000</text>
<line x1="226.00" y1="559.30" x2="229.20" y2="559.30" stroke="#231f20" stroke-width="0.9" />
<text x="222.30" y="562.30" font-size="8.6" text-anchor="end" textLength="29.33" lengthAdjust="spacingAndGlyphs" >1000000</text>
<line x1="240.40" y1="634.00" x2="240.40" y2="636.60" stroke="#231f20" stroke-width="0.9" />
<line x1="255.20" y1="634.00" x2="255.20" y2="636.60" stroke="#231f20" stroke-width="0.9" />
<line x1="270.60" y1="634.00" x2="270.60" y2="636.60" stroke="#231f20" stroke-width="0.9" />
<line x1="285.70" y1="634.00" x2="285.70" y2="636.60" stroke="#231f20" stroke-width="0.9" />
<line x1="300.30" y1="634.00" x2="300.30" y2="636.60" stroke="#231f20" stroke-width="0.9" />
<line x1="315.70" y1="634.00" x2="315.70" y2="636.60" stroke="#231f20" stroke-width="0.9" />
<line x1="240.40" y1="547.50" x2="315.70" y2="547.50" stroke="#231f20" stroke-width="1.0" />
<circle cx="276.45" cy="543.80" r="1.35" fill="#231f20"/>
<circle cx="279.65" cy="543.80" r="1.35" fill="#231f20"/>
<line x1="240.40" y1="554.50" x2="284.50" y2="554.50" stroke="#231f20" stroke-width="1.0" />
<circle cx="262.45" cy="550.80" r="1.35" fill="#231f20"/>
<line x1="240.40" y1="561.50" x2="254.70" y2="561.50" stroke="#231f20" stroke-width="1.0" />
<circle cx="245.95" cy="557.80" r="1.35" fill="#231f20"/>
<circle cx="249.15" cy="557.80" r="1.35" fill="#231f20"/>
<line x1="256.10" y1="561.50" x2="270.60" y2="561.50" stroke="#231f20" stroke-width="1.0" />
<circle cx="261.75" cy="557.80" r="1.35" fill="#231f20"/>
<circle cx="264.95" cy="557.80" r="1.35" fill="#231f20"/>
<line x1="256.10" y1="568.50" x2="300.30" y2="568.50" stroke="#231f20" stroke-width="1.0" />
<circle cx="278.20" cy="564.80" r="1.35" fill="#231f20"/>
<line x1="286.20" y1="575.50" x2="300.30" y2="575.50" stroke="#231f20" stroke-width="1.0" />
<circle cx="293.25" cy="571.80" r="1.35" fill="#231f20"/>
<line x1="300.70" y1="563.50" x2="315.20" y2="563.50" stroke="#231f20" stroke-width="1.0" />
<circle cx="306.35" cy="559.80" r="1.35" fill="#231f20"/>
<circle cx="309.55" cy="559.80" r="1.35" fill="#231f20"/>
<circle cx="338.40" cy="565.50" r="2.45" fill="#1b4a7a"/>
<text x="343.80" y="568.40" font-size="8.2" textLength="107.15" lengthAdjust="spacingAndGlyphs" >Non-transduced iNK cells alone</text>
<rect x="335.95" y="573.65" width="4.90" height="4.90" fill="#2f9e4c"/>
<text x="343.80" y="579.00" font-size="8.2" textLength="66.76" lengthAdjust="spacingAndGlyphs" >iDuo NK cells alone</text>
<path d="M338.40 583.91L340.97 588.56L335.83 588.56Z" fill="#27a6dc"/>
<text x="343.80" y="589.60" font-size="8.2" textLength="134.56" lengthAdjust="spacingAndGlyphs" >Non-transduced iNK cells + Nalm6 cells</text>
<path d="M338.40 600.09L340.97 595.44L335.83 595.44Z" fill="#eaa435"/>
<text x="343.80" y="600.20" font-size="8.2" textLength="94.17" lengthAdjust="spacingAndGlyphs" >iDuo NK cells + Nalm6 cells</text>
<path d="M338.40 604.18L341.81 607.90L338.40 611.62L334.99 607.90Z" fill="#bf1440"/>
<text x="343.80" y="610.80" font-size="8.2" textLength="174.31" lengthAdjust="spacingAndGlyphs" >Non-transduced iNK cells + Nalm6 cells + rituximab</text>
<circle cx="338.40" cy="618.50" r="2.45" fill="#dc2185"/>
<text x="343.80" y="621.40" font-size="8.2" textLength="133.92" lengthAdjust="spacingAndGlyphs" >iDuo NK cells + Nalm6 cells + rituximab</text>
</svg>
</body></html>
